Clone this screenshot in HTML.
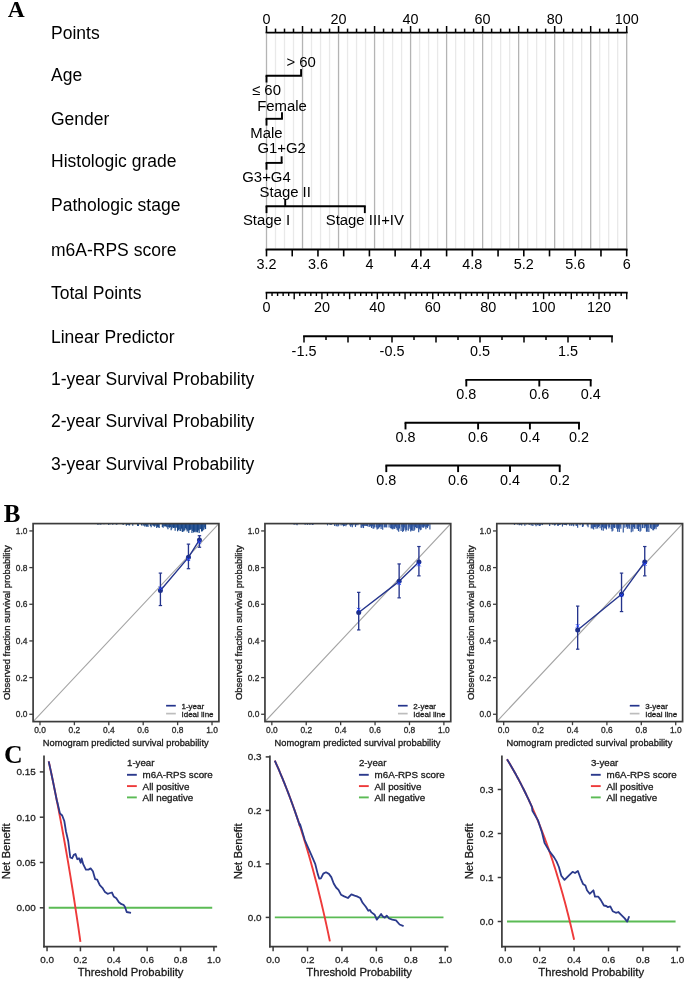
<!DOCTYPE html>
<html><head><meta charset="utf-8"><style>
html,body{margin:0;padding:0;background:#fff;}
svg{display:block;font-family:"Liberation Sans", sans-serif;will-change:transform;filter:blur(0.3px);}
</style></head><body>
<svg width="685" height="981" viewBox="0 0 685 981">
<rect width="685" height="981" fill="#fff"/>
<text x="7.7" y="17.1" font-family="'Liberation Serif', serif" font-weight="bold" font-size="23.5" fill="#000">A</text>
<line x1="266.50" y1="34.00" x2="266.50" y2="248.50" stroke="#b4b4b4" stroke-width="1.3"/>
<line x1="275.50" y1="34.00" x2="275.50" y2="248.50" stroke="#e9e9e9" stroke-width="1.3"/>
<line x1="284.51" y1="34.00" x2="284.51" y2="248.50" stroke="#e9e9e9" stroke-width="1.3"/>
<line x1="293.51" y1="34.00" x2="293.51" y2="248.50" stroke="#e9e9e9" stroke-width="1.3"/>
<line x1="302.52" y1="34.00" x2="302.52" y2="248.50" stroke="#b4b4b4" stroke-width="1.3"/>
<line x1="311.52" y1="34.00" x2="311.52" y2="248.50" stroke="#e9e9e9" stroke-width="1.3"/>
<line x1="320.53" y1="34.00" x2="320.53" y2="248.50" stroke="#e9e9e9" stroke-width="1.3"/>
<line x1="329.53" y1="34.00" x2="329.53" y2="248.50" stroke="#e9e9e9" stroke-width="1.3"/>
<line x1="338.54" y1="34.00" x2="338.54" y2="248.50" stroke="#b4b4b4" stroke-width="1.3"/>
<line x1="347.55" y1="34.00" x2="347.55" y2="248.50" stroke="#e9e9e9" stroke-width="1.3"/>
<line x1="356.55" y1="34.00" x2="356.55" y2="248.50" stroke="#e9e9e9" stroke-width="1.3"/>
<line x1="365.56" y1="34.00" x2="365.56" y2="248.50" stroke="#e9e9e9" stroke-width="1.3"/>
<line x1="374.56" y1="34.00" x2="374.56" y2="248.50" stroke="#b4b4b4" stroke-width="1.3"/>
<line x1="383.56" y1="34.00" x2="383.56" y2="248.50" stroke="#e9e9e9" stroke-width="1.3"/>
<line x1="392.57" y1="34.00" x2="392.57" y2="248.50" stroke="#e9e9e9" stroke-width="1.3"/>
<line x1="401.57" y1="34.00" x2="401.57" y2="248.50" stroke="#e9e9e9" stroke-width="1.3"/>
<line x1="410.58" y1="34.00" x2="410.58" y2="248.50" stroke="#b4b4b4" stroke-width="1.3"/>
<line x1="419.59" y1="34.00" x2="419.59" y2="248.50" stroke="#e9e9e9" stroke-width="1.3"/>
<line x1="428.59" y1="34.00" x2="428.59" y2="248.50" stroke="#e9e9e9" stroke-width="1.3"/>
<line x1="437.60" y1="34.00" x2="437.60" y2="248.50" stroke="#e9e9e9" stroke-width="1.3"/>
<line x1="446.60" y1="34.00" x2="446.60" y2="248.50" stroke="#b4b4b4" stroke-width="1.3"/>
<line x1="455.61" y1="34.00" x2="455.61" y2="248.50" stroke="#e9e9e9" stroke-width="1.3"/>
<line x1="464.61" y1="34.00" x2="464.61" y2="248.50" stroke="#e9e9e9" stroke-width="1.3"/>
<line x1="473.62" y1="34.00" x2="473.62" y2="248.50" stroke="#e9e9e9" stroke-width="1.3"/>
<line x1="482.62" y1="34.00" x2="482.62" y2="248.50" stroke="#b4b4b4" stroke-width="1.3"/>
<line x1="491.62" y1="34.00" x2="491.62" y2="248.50" stroke="#e9e9e9" stroke-width="1.3"/>
<line x1="500.63" y1="34.00" x2="500.63" y2="248.50" stroke="#e9e9e9" stroke-width="1.3"/>
<line x1="509.63" y1="34.00" x2="509.63" y2="248.50" stroke="#e9e9e9" stroke-width="1.3"/>
<line x1="518.64" y1="34.00" x2="518.64" y2="248.50" stroke="#b4b4b4" stroke-width="1.3"/>
<line x1="527.64" y1="34.00" x2="527.64" y2="248.50" stroke="#e9e9e9" stroke-width="1.3"/>
<line x1="536.65" y1="34.00" x2="536.65" y2="248.50" stroke="#e9e9e9" stroke-width="1.3"/>
<line x1="545.65" y1="34.00" x2="545.65" y2="248.50" stroke="#e9e9e9" stroke-width="1.3"/>
<line x1="554.66" y1="34.00" x2="554.66" y2="248.50" stroke="#b4b4b4" stroke-width="1.3"/>
<line x1="563.66" y1="34.00" x2="563.66" y2="248.50" stroke="#e9e9e9" stroke-width="1.3"/>
<line x1="572.67" y1="34.00" x2="572.67" y2="248.50" stroke="#e9e9e9" stroke-width="1.3"/>
<line x1="581.67" y1="34.00" x2="581.67" y2="248.50" stroke="#e9e9e9" stroke-width="1.3"/>
<line x1="590.68" y1="34.00" x2="590.68" y2="248.50" stroke="#b4b4b4" stroke-width="1.3"/>
<line x1="599.68" y1="34.00" x2="599.68" y2="248.50" stroke="#e9e9e9" stroke-width="1.3"/>
<line x1="608.69" y1="34.00" x2="608.69" y2="248.50" stroke="#e9e9e9" stroke-width="1.3"/>
<line x1="617.69" y1="34.00" x2="617.69" y2="248.50" stroke="#e9e9e9" stroke-width="1.3"/>
<line x1="626.70" y1="34.00" x2="626.70" y2="248.50" stroke="#b4b4b4" stroke-width="1.3"/>
<line x1="265.60" y1="32.60" x2="627.60" y2="32.60" stroke="#000" stroke-width="1.9"/>
<line x1="266.50" y1="26.00" x2="266.50" y2="32.60" stroke="#000" stroke-width="1.5"/>
<line x1="275.50" y1="28.60" x2="275.50" y2="32.60" stroke="#000" stroke-width="1.5"/>
<line x1="284.51" y1="28.60" x2="284.51" y2="32.60" stroke="#000" stroke-width="1.5"/>
<line x1="293.51" y1="28.60" x2="293.51" y2="32.60" stroke="#000" stroke-width="1.5"/>
<line x1="302.52" y1="26.00" x2="302.52" y2="32.60" stroke="#000" stroke-width="1.5"/>
<line x1="311.52" y1="28.60" x2="311.52" y2="32.60" stroke="#000" stroke-width="1.5"/>
<line x1="320.53" y1="28.60" x2="320.53" y2="32.60" stroke="#000" stroke-width="1.5"/>
<line x1="329.53" y1="28.60" x2="329.53" y2="32.60" stroke="#000" stroke-width="1.5"/>
<line x1="338.54" y1="26.00" x2="338.54" y2="32.60" stroke="#000" stroke-width="1.5"/>
<line x1="347.55" y1="28.60" x2="347.55" y2="32.60" stroke="#000" stroke-width="1.5"/>
<line x1="356.55" y1="28.60" x2="356.55" y2="32.60" stroke="#000" stroke-width="1.5"/>
<line x1="365.56" y1="28.60" x2="365.56" y2="32.60" stroke="#000" stroke-width="1.5"/>
<line x1="374.56" y1="26.00" x2="374.56" y2="32.60" stroke="#000" stroke-width="1.5"/>
<line x1="383.56" y1="28.60" x2="383.56" y2="32.60" stroke="#000" stroke-width="1.5"/>
<line x1="392.57" y1="28.60" x2="392.57" y2="32.60" stroke="#000" stroke-width="1.5"/>
<line x1="401.57" y1="28.60" x2="401.57" y2="32.60" stroke="#000" stroke-width="1.5"/>
<line x1="410.58" y1="26.00" x2="410.58" y2="32.60" stroke="#000" stroke-width="1.5"/>
<line x1="419.59" y1="28.60" x2="419.59" y2="32.60" stroke="#000" stroke-width="1.5"/>
<line x1="428.59" y1="28.60" x2="428.59" y2="32.60" stroke="#000" stroke-width="1.5"/>
<line x1="437.60" y1="28.60" x2="437.60" y2="32.60" stroke="#000" stroke-width="1.5"/>
<line x1="446.60" y1="26.00" x2="446.60" y2="32.60" stroke="#000" stroke-width="1.5"/>
<line x1="455.61" y1="28.60" x2="455.61" y2="32.60" stroke="#000" stroke-width="1.5"/>
<line x1="464.61" y1="28.60" x2="464.61" y2="32.60" stroke="#000" stroke-width="1.5"/>
<line x1="473.62" y1="28.60" x2="473.62" y2="32.60" stroke="#000" stroke-width="1.5"/>
<line x1="482.62" y1="26.00" x2="482.62" y2="32.60" stroke="#000" stroke-width="1.5"/>
<line x1="491.62" y1="28.60" x2="491.62" y2="32.60" stroke="#000" stroke-width="1.5"/>
<line x1="500.63" y1="28.60" x2="500.63" y2="32.60" stroke="#000" stroke-width="1.5"/>
<line x1="509.63" y1="28.60" x2="509.63" y2="32.60" stroke="#000" stroke-width="1.5"/>
<line x1="518.64" y1="26.00" x2="518.64" y2="32.60" stroke="#000" stroke-width="1.5"/>
<line x1="527.64" y1="28.60" x2="527.64" y2="32.60" stroke="#000" stroke-width="1.5"/>
<line x1="536.65" y1="28.60" x2="536.65" y2="32.60" stroke="#000" stroke-width="1.5"/>
<line x1="545.65" y1="28.60" x2="545.65" y2="32.60" stroke="#000" stroke-width="1.5"/>
<line x1="554.66" y1="26.00" x2="554.66" y2="32.60" stroke="#000" stroke-width="1.5"/>
<line x1="563.66" y1="28.60" x2="563.66" y2="32.60" stroke="#000" stroke-width="1.5"/>
<line x1="572.67" y1="28.60" x2="572.67" y2="32.60" stroke="#000" stroke-width="1.5"/>
<line x1="581.67" y1="28.60" x2="581.67" y2="32.60" stroke="#000" stroke-width="1.5"/>
<line x1="590.68" y1="26.00" x2="590.68" y2="32.60" stroke="#000" stroke-width="1.5"/>
<line x1="599.68" y1="28.60" x2="599.68" y2="32.60" stroke="#000" stroke-width="1.5"/>
<line x1="608.69" y1="28.60" x2="608.69" y2="32.60" stroke="#000" stroke-width="1.5"/>
<line x1="617.69" y1="28.60" x2="617.69" y2="32.60" stroke="#000" stroke-width="1.5"/>
<line x1="626.70" y1="26.00" x2="626.70" y2="32.60" stroke="#000" stroke-width="1.5"/>
<text x="266.50" y="23.80" font-size="14.4" text-anchor="middle" fill="#000">0</text>
<text x="338.54" y="23.80" font-size="14.4" text-anchor="middle" fill="#000">20</text>
<text x="410.58" y="23.80" font-size="14.4" text-anchor="middle" fill="#000">40</text>
<text x="482.62" y="23.80" font-size="14.4" text-anchor="middle" fill="#000">60</text>
<text x="554.66" y="23.80" font-size="14.4" text-anchor="middle" fill="#000">80</text>
<text x="626.70" y="23.80" font-size="14.4" text-anchor="middle" fill="#000">100</text>
<text x="51.00" y="38.80" font-size="17.5" text-anchor="start" fill="#000">Points</text>
<text x="51.00" y="80.70" font-size="17.5" text-anchor="start" fill="#000">Age</text>
<text x="51.00" y="125.40" font-size="17.5" text-anchor="start" fill="#000">Gender</text>
<text x="51.00" y="167.20" font-size="17.5" text-anchor="start" fill="#000">Histologic grade</text>
<text x="51.00" y="211.40" font-size="17.5" text-anchor="start" fill="#000">Pathologic stage</text>
<text x="51.00" y="256.00" font-size="17.5" text-anchor="start" fill="#000">m6A-RPS score</text>
<text x="51.00" y="299.00" font-size="17.5" text-anchor="start" fill="#000">Total Points</text>
<text x="51.00" y="342.70" font-size="17.5" text-anchor="start" fill="#000">Linear Predictor</text>
<text x="51.00" y="384.50" font-size="17.5" text-anchor="start" fill="#000">1-year Survival Probability</text>
<text x="51.00" y="427.30" font-size="17.5" text-anchor="start" fill="#000">2-year Survival Probability</text>
<text x="51.00" y="469.70" font-size="17.5" text-anchor="start" fill="#000">3-year Survival Probability</text>
<line x1="265.60" y1="75.70" x2="301.98" y2="75.70" stroke="#000" stroke-width="1.9"/>
<line x1="266.50" y1="75.70" x2="266.50" y2="82.50" stroke="#000" stroke-width="1.9"/>
<text x="266.50" y="95.00" font-size="14.9" text-anchor="middle" fill="#000">≤ 60</text>
<line x1="301.08" y1="69.10" x2="301.08" y2="75.70" stroke="#000" stroke-width="1.9"/>
<text x="301.08" y="66.90" font-size="14.9" text-anchor="middle" fill="#000">&gt; 60</text>
<line x1="265.60" y1="118.80" x2="282.89" y2="118.80" stroke="#000" stroke-width="1.9"/>
<line x1="266.50" y1="118.80" x2="266.50" y2="125.60" stroke="#000" stroke-width="1.9"/>
<text x="266.50" y="138.30" font-size="14.9" text-anchor="middle" fill="#000">Male</text>
<line x1="281.99" y1="112.20" x2="281.99" y2="118.80" stroke="#000" stroke-width="1.9"/>
<text x="281.99" y="110.50" font-size="14.9" text-anchor="middle" fill="#000">Female</text>
<line x1="265.60" y1="162.90" x2="282.53" y2="162.90" stroke="#000" stroke-width="1.9"/>
<line x1="266.50" y1="162.90" x2="266.50" y2="169.70" stroke="#000" stroke-width="1.9"/>
<text x="266.50" y="182.20" font-size="14.9" text-anchor="middle" fill="#000">G3+G4</text>
<line x1="281.63" y1="156.30" x2="281.63" y2="162.90" stroke="#000" stroke-width="1.9"/>
<text x="281.63" y="153.30" font-size="14.9" text-anchor="middle" fill="#000">G1+G2</text>
<line x1="265.60" y1="206.30" x2="365.73" y2="206.30" stroke="#000" stroke-width="1.9"/>
<line x1="266.50" y1="206.30" x2="266.50" y2="213.10" stroke="#000" stroke-width="1.9"/>
<text x="266.50" y="224.90" font-size="14.9" text-anchor="middle" fill="#000">Stage I</text>
<line x1="285.23" y1="199.70" x2="285.23" y2="206.30" stroke="#000" stroke-width="1.9"/>
<text x="285.23" y="196.60" font-size="14.9" text-anchor="middle" fill="#000">Stage II</text>
<line x1="364.83" y1="206.30" x2="364.83" y2="213.10" stroke="#000" stroke-width="1.9"/>
<text x="364.83" y="225.40" font-size="14.9" text-anchor="middle" fill="#000">Stage III+IV</text>
<line x1="265.60" y1="249.50" x2="627.60" y2="249.50" stroke="#000" stroke-width="1.9"/>
<line x1="266.50" y1="249.50" x2="266.50" y2="256.40" stroke="#000" stroke-width="1.6"/>
<line x1="292.23" y1="249.50" x2="292.23" y2="256.40" stroke="#000" stroke-width="1.6"/>
<line x1="317.96" y1="249.50" x2="317.96" y2="256.40" stroke="#000" stroke-width="1.6"/>
<line x1="343.69" y1="249.50" x2="343.69" y2="256.40" stroke="#000" stroke-width="1.6"/>
<line x1="369.41" y1="249.50" x2="369.41" y2="256.40" stroke="#000" stroke-width="1.6"/>
<line x1="395.14" y1="249.50" x2="395.14" y2="256.40" stroke="#000" stroke-width="1.6"/>
<line x1="420.87" y1="249.50" x2="420.87" y2="256.40" stroke="#000" stroke-width="1.6"/>
<line x1="446.60" y1="249.50" x2="446.60" y2="256.40" stroke="#000" stroke-width="1.6"/>
<line x1="472.33" y1="249.50" x2="472.33" y2="256.40" stroke="#000" stroke-width="1.6"/>
<line x1="498.06" y1="249.50" x2="498.06" y2="256.40" stroke="#000" stroke-width="1.6"/>
<line x1="523.79" y1="249.50" x2="523.79" y2="256.40" stroke="#000" stroke-width="1.6"/>
<line x1="549.51" y1="249.50" x2="549.51" y2="256.40" stroke="#000" stroke-width="1.6"/>
<line x1="575.24" y1="249.50" x2="575.24" y2="256.40" stroke="#000" stroke-width="1.6"/>
<line x1="600.97" y1="249.50" x2="600.97" y2="256.40" stroke="#000" stroke-width="1.6"/>
<line x1="626.70" y1="249.50" x2="626.70" y2="256.40" stroke="#000" stroke-width="1.6"/>
<text x="266.50" y="268.60" font-size="14.4" text-anchor="middle" fill="#000">3.2</text>
<text x="317.96" y="268.60" font-size="14.4" text-anchor="middle" fill="#000">3.6</text>
<text x="369.41" y="268.60" font-size="14.4" text-anchor="middle" fill="#000">4</text>
<text x="420.87" y="268.60" font-size="14.4" text-anchor="middle" fill="#000">4.4</text>
<text x="472.33" y="268.60" font-size="14.4" text-anchor="middle" fill="#000">4.8</text>
<text x="523.79" y="268.60" font-size="14.4" text-anchor="middle" fill="#000">5.2</text>
<text x="575.24" y="268.60" font-size="14.4" text-anchor="middle" fill="#000">5.6</text>
<text x="626.70" y="268.60" font-size="14.4" text-anchor="middle" fill="#000">6</text>
<line x1="265.60" y1="292.60" x2="627.63" y2="292.60" stroke="#000" stroke-width="1.9"/>
<line x1="266.50" y1="292.60" x2="266.50" y2="299.20" stroke="#000" stroke-width="1.4"/>
<line x1="272.04" y1="292.60" x2="272.04" y2="296.00" stroke="#000" stroke-width="1.4"/>
<line x1="277.58" y1="292.60" x2="277.58" y2="296.00" stroke="#000" stroke-width="1.4"/>
<line x1="283.13" y1="292.60" x2="283.13" y2="296.00" stroke="#000" stroke-width="1.4"/>
<line x1="288.67" y1="292.60" x2="288.67" y2="296.00" stroke="#000" stroke-width="1.4"/>
<line x1="294.21" y1="292.60" x2="294.21" y2="299.20" stroke="#000" stroke-width="1.4"/>
<line x1="299.75" y1="292.60" x2="299.75" y2="296.00" stroke="#000" stroke-width="1.4"/>
<line x1="305.29" y1="292.60" x2="305.29" y2="296.00" stroke="#000" stroke-width="1.4"/>
<line x1="310.84" y1="292.60" x2="310.84" y2="296.00" stroke="#000" stroke-width="1.4"/>
<line x1="316.38" y1="292.60" x2="316.38" y2="296.00" stroke="#000" stroke-width="1.4"/>
<line x1="321.92" y1="292.60" x2="321.92" y2="299.20" stroke="#000" stroke-width="1.4"/>
<line x1="327.46" y1="292.60" x2="327.46" y2="296.00" stroke="#000" stroke-width="1.4"/>
<line x1="333.00" y1="292.60" x2="333.00" y2="296.00" stroke="#000" stroke-width="1.4"/>
<line x1="338.55" y1="292.60" x2="338.55" y2="296.00" stroke="#000" stroke-width="1.4"/>
<line x1="344.09" y1="292.60" x2="344.09" y2="296.00" stroke="#000" stroke-width="1.4"/>
<line x1="349.63" y1="292.60" x2="349.63" y2="299.20" stroke="#000" stroke-width="1.4"/>
<line x1="355.17" y1="292.60" x2="355.17" y2="296.00" stroke="#000" stroke-width="1.4"/>
<line x1="360.71" y1="292.60" x2="360.71" y2="296.00" stroke="#000" stroke-width="1.4"/>
<line x1="366.26" y1="292.60" x2="366.26" y2="296.00" stroke="#000" stroke-width="1.4"/>
<line x1="371.80" y1="292.60" x2="371.80" y2="296.00" stroke="#000" stroke-width="1.4"/>
<line x1="377.34" y1="292.60" x2="377.34" y2="299.20" stroke="#000" stroke-width="1.4"/>
<line x1="382.88" y1="292.60" x2="382.88" y2="296.00" stroke="#000" stroke-width="1.4"/>
<line x1="388.42" y1="292.60" x2="388.42" y2="296.00" stroke="#000" stroke-width="1.4"/>
<line x1="393.97" y1="292.60" x2="393.97" y2="296.00" stroke="#000" stroke-width="1.4"/>
<line x1="399.51" y1="292.60" x2="399.51" y2="296.00" stroke="#000" stroke-width="1.4"/>
<line x1="405.05" y1="292.60" x2="405.05" y2="299.20" stroke="#000" stroke-width="1.4"/>
<line x1="410.59" y1="292.60" x2="410.59" y2="296.00" stroke="#000" stroke-width="1.4"/>
<line x1="416.13" y1="292.60" x2="416.13" y2="296.00" stroke="#000" stroke-width="1.4"/>
<line x1="421.68" y1="292.60" x2="421.68" y2="296.00" stroke="#000" stroke-width="1.4"/>
<line x1="427.22" y1="292.60" x2="427.22" y2="296.00" stroke="#000" stroke-width="1.4"/>
<line x1="432.76" y1="292.60" x2="432.76" y2="299.20" stroke="#000" stroke-width="1.4"/>
<line x1="438.30" y1="292.60" x2="438.30" y2="296.00" stroke="#000" stroke-width="1.4"/>
<line x1="443.84" y1="292.60" x2="443.84" y2="296.00" stroke="#000" stroke-width="1.4"/>
<line x1="449.39" y1="292.60" x2="449.39" y2="296.00" stroke="#000" stroke-width="1.4"/>
<line x1="454.93" y1="292.60" x2="454.93" y2="296.00" stroke="#000" stroke-width="1.4"/>
<line x1="460.47" y1="292.60" x2="460.47" y2="299.20" stroke="#000" stroke-width="1.4"/>
<line x1="466.01" y1="292.60" x2="466.01" y2="296.00" stroke="#000" stroke-width="1.4"/>
<line x1="471.55" y1="292.60" x2="471.55" y2="296.00" stroke="#000" stroke-width="1.4"/>
<line x1="477.10" y1="292.60" x2="477.10" y2="296.00" stroke="#000" stroke-width="1.4"/>
<line x1="482.64" y1="292.60" x2="482.64" y2="296.00" stroke="#000" stroke-width="1.4"/>
<line x1="488.18" y1="292.60" x2="488.18" y2="299.20" stroke="#000" stroke-width="1.4"/>
<line x1="493.72" y1="292.60" x2="493.72" y2="296.00" stroke="#000" stroke-width="1.4"/>
<line x1="499.26" y1="292.60" x2="499.26" y2="296.00" stroke="#000" stroke-width="1.4"/>
<line x1="504.81" y1="292.60" x2="504.81" y2="296.00" stroke="#000" stroke-width="1.4"/>
<line x1="510.35" y1="292.60" x2="510.35" y2="296.00" stroke="#000" stroke-width="1.4"/>
<line x1="515.89" y1="292.60" x2="515.89" y2="299.20" stroke="#000" stroke-width="1.4"/>
<line x1="521.43" y1="292.60" x2="521.43" y2="296.00" stroke="#000" stroke-width="1.4"/>
<line x1="526.97" y1="292.60" x2="526.97" y2="296.00" stroke="#000" stroke-width="1.4"/>
<line x1="532.52" y1="292.60" x2="532.52" y2="296.00" stroke="#000" stroke-width="1.4"/>
<line x1="538.06" y1="292.60" x2="538.06" y2="296.00" stroke="#000" stroke-width="1.4"/>
<line x1="543.60" y1="292.60" x2="543.60" y2="299.20" stroke="#000" stroke-width="1.4"/>
<line x1="549.14" y1="292.60" x2="549.14" y2="296.00" stroke="#000" stroke-width="1.4"/>
<line x1="554.68" y1="292.60" x2="554.68" y2="296.00" stroke="#000" stroke-width="1.4"/>
<line x1="560.23" y1="292.60" x2="560.23" y2="296.00" stroke="#000" stroke-width="1.4"/>
<line x1="565.77" y1="292.60" x2="565.77" y2="296.00" stroke="#000" stroke-width="1.4"/>
<line x1="571.31" y1="292.60" x2="571.31" y2="299.20" stroke="#000" stroke-width="1.4"/>
<line x1="576.85" y1="292.60" x2="576.85" y2="296.00" stroke="#000" stroke-width="1.4"/>
<line x1="582.39" y1="292.60" x2="582.39" y2="296.00" stroke="#000" stroke-width="1.4"/>
<line x1="587.94" y1="292.60" x2="587.94" y2="296.00" stroke="#000" stroke-width="1.4"/>
<line x1="593.48" y1="292.60" x2="593.48" y2="296.00" stroke="#000" stroke-width="1.4"/>
<line x1="599.02" y1="292.60" x2="599.02" y2="299.20" stroke="#000" stroke-width="1.4"/>
<line x1="604.56" y1="292.60" x2="604.56" y2="296.00" stroke="#000" stroke-width="1.4"/>
<line x1="610.10" y1="292.60" x2="610.10" y2="296.00" stroke="#000" stroke-width="1.4"/>
<line x1="615.65" y1="292.60" x2="615.65" y2="296.00" stroke="#000" stroke-width="1.4"/>
<line x1="621.19" y1="292.60" x2="621.19" y2="296.00" stroke="#000" stroke-width="1.4"/>
<line x1="626.73" y1="292.60" x2="626.73" y2="299.20" stroke="#000" stroke-width="1.4"/>
<text x="266.50" y="312.10" font-size="14.4" text-anchor="middle" fill="#000">0</text>
<text x="321.92" y="312.10" font-size="14.4" text-anchor="middle" fill="#000">20</text>
<text x="377.34" y="312.10" font-size="14.4" text-anchor="middle" fill="#000">40</text>
<text x="432.76" y="312.10" font-size="14.4" text-anchor="middle" fill="#000">60</text>
<text x="488.18" y="312.10" font-size="14.4" text-anchor="middle" fill="#000">80</text>
<text x="543.60" y="312.10" font-size="14.4" text-anchor="middle" fill="#000">100</text>
<text x="599.02" y="312.10" font-size="14.4" text-anchor="middle" fill="#000">120</text>
<line x1="303.10" y1="336.30" x2="612.90" y2="336.30" stroke="#000" stroke-width="1.9"/>
<line x1="304.00" y1="336.30" x2="304.00" y2="342.60" stroke="#000" stroke-width="1.5"/>
<line x1="326.00" y1="336.30" x2="326.00" y2="340.00" stroke="#000" stroke-width="1.5"/>
<line x1="348.00" y1="336.30" x2="348.00" y2="342.60" stroke="#000" stroke-width="1.5"/>
<line x1="370.00" y1="336.30" x2="370.00" y2="340.00" stroke="#000" stroke-width="1.5"/>
<line x1="392.00" y1="336.30" x2="392.00" y2="342.60" stroke="#000" stroke-width="1.5"/>
<line x1="414.00" y1="336.30" x2="414.00" y2="340.00" stroke="#000" stroke-width="1.5"/>
<line x1="436.00" y1="336.30" x2="436.00" y2="342.60" stroke="#000" stroke-width="1.5"/>
<line x1="458.00" y1="336.30" x2="458.00" y2="340.00" stroke="#000" stroke-width="1.5"/>
<line x1="480.00" y1="336.30" x2="480.00" y2="342.60" stroke="#000" stroke-width="1.5"/>
<line x1="502.00" y1="336.30" x2="502.00" y2="340.00" stroke="#000" stroke-width="1.5"/>
<line x1="524.00" y1="336.30" x2="524.00" y2="342.60" stroke="#000" stroke-width="1.5"/>
<line x1="546.00" y1="336.30" x2="546.00" y2="340.00" stroke="#000" stroke-width="1.5"/>
<line x1="568.00" y1="336.30" x2="568.00" y2="342.60" stroke="#000" stroke-width="1.5"/>
<line x1="590.00" y1="336.30" x2="590.00" y2="340.00" stroke="#000" stroke-width="1.5"/>
<line x1="612.00" y1="336.30" x2="612.00" y2="342.60" stroke="#000" stroke-width="1.5"/>
<text x="304.00" y="356.00" font-size="14.4" text-anchor="middle" fill="#000">-1.5</text>
<text x="392.00" y="356.00" font-size="14.4" text-anchor="middle" fill="#000">-0.5</text>
<text x="480.00" y="356.00" font-size="14.4" text-anchor="middle" fill="#000">0.5</text>
<text x="568.00" y="356.00" font-size="14.4" text-anchor="middle" fill="#000">1.5</text>
<line x1="465.40" y1="379.90" x2="591.60" y2="379.90" stroke="#000" stroke-width="1.9"/>
<line x1="466.30" y1="379.90" x2="466.30" y2="386.50" stroke="#000" stroke-width="1.9"/>
<text x="466.30" y="398.90" font-size="14.4" text-anchor="middle" fill="#000">0.8</text>
<line x1="539.30" y1="379.90" x2="539.30" y2="386.50" stroke="#000" stroke-width="1.9"/>
<text x="539.30" y="398.90" font-size="14.4" text-anchor="middle" fill="#000">0.6</text>
<line x1="590.70" y1="379.90" x2="590.70" y2="386.50" stroke="#000" stroke-width="1.9"/>
<text x="590.70" y="398.90" font-size="14.4" text-anchor="middle" fill="#000">0.4</text>
<line x1="404.60" y1="422.80" x2="579.90" y2="422.80" stroke="#000" stroke-width="1.9"/>
<line x1="405.50" y1="422.80" x2="405.50" y2="429.40" stroke="#000" stroke-width="1.9"/>
<text x="405.50" y="441.90" font-size="14.4" text-anchor="middle" fill="#000">0.8</text>
<line x1="478.10" y1="422.80" x2="478.10" y2="429.40" stroke="#000" stroke-width="1.9"/>
<text x="478.10" y="441.90" font-size="14.4" text-anchor="middle" fill="#000">0.6</text>
<line x1="529.90" y1="422.80" x2="529.90" y2="429.40" stroke="#000" stroke-width="1.9"/>
<text x="529.90" y="441.90" font-size="14.4" text-anchor="middle" fill="#000">0.4</text>
<line x1="579.00" y1="422.80" x2="579.00" y2="429.40" stroke="#000" stroke-width="1.9"/>
<text x="579.00" y="441.90" font-size="14.4" text-anchor="middle" fill="#000">0.2</text>
<line x1="385.40" y1="465.50" x2="560.60" y2="465.50" stroke="#000" stroke-width="1.9"/>
<line x1="386.30" y1="465.50" x2="386.30" y2="472.10" stroke="#000" stroke-width="1.9"/>
<text x="386.30" y="484.80" font-size="14.4" text-anchor="middle" fill="#000">0.8</text>
<line x1="458.10" y1="465.50" x2="458.10" y2="472.10" stroke="#000" stroke-width="1.9"/>
<text x="458.10" y="484.80" font-size="14.4" text-anchor="middle" fill="#000">0.6</text>
<line x1="510.00" y1="465.50" x2="510.00" y2="472.10" stroke="#000" stroke-width="1.9"/>
<text x="510.00" y="484.80" font-size="14.4" text-anchor="middle" fill="#000">0.4</text>
<line x1="559.70" y1="465.50" x2="559.70" y2="472.10" stroke="#000" stroke-width="1.9"/>
<text x="559.70" y="484.80" font-size="14.4" text-anchor="middle" fill="#000">0.2</text>
<text x="3.7" y="522.1" font-family="'Liberation Serif', serif" font-weight="bold" font-size="25" fill="#000">B</text>
<clipPath id="cb0"><rect x="33.1" y="523.6" width="185.8" height="198.0"/></clipPath>
<line x1="33.10" y1="721.60" x2="218.90" y2="523.60" stroke="#a3a3a3" stroke-width="1.1" clip-path="url(#cb0)"/>
<line x1="97.55" y1="523.60" x2="97.55" y2="524.53" stroke="#184689" stroke-width="1.15"/>
<line x1="98.35" y1="523.60" x2="98.35" y2="524.45" stroke="#184689" stroke-width="1.15"/>
<line x1="99.95" y1="523.60" x2="99.95" y2="524.45" stroke="#184689" stroke-width="1.15"/>
<line x1="100.75" y1="523.60" x2="100.75" y2="524.40" stroke="#184689" stroke-width="1.15"/>
<line x1="101.55" y1="523.60" x2="101.55" y2="524.12" stroke="#184689" stroke-width="1.15"/>
<line x1="103.95" y1="523.60" x2="103.95" y2="524.26" stroke="#184689" stroke-width="1.15"/>
<line x1="108.75" y1="523.60" x2="108.75" y2="524.90" stroke="#184689" stroke-width="1.15"/>
<line x1="110.35" y1="523.60" x2="110.35" y2="524.24" stroke="#184689" stroke-width="1.15"/>
<line x1="112.75" y1="523.60" x2="112.75" y2="524.71" stroke="#184689" stroke-width="1.15"/>
<line x1="115.95" y1="523.60" x2="115.95" y2="524.24" stroke="#184689" stroke-width="1.15"/>
<line x1="116.75" y1="523.60" x2="116.75" y2="524.87" stroke="#184689" stroke-width="1.15"/>
<line x1="123.15" y1="523.60" x2="123.15" y2="525.03" stroke="#184689" stroke-width="1.15"/>
<line x1="126.35" y1="523.60" x2="126.35" y2="525.74" stroke="#184689" stroke-width="1.15"/>
<line x1="127.15" y1="523.60" x2="127.15" y2="524.98" stroke="#184689" stroke-width="1.15"/>
<line x1="128.75" y1="523.60" x2="128.75" y2="525.15" stroke="#184689" stroke-width="1.15"/>
<line x1="129.55" y1="523.60" x2="129.55" y2="525.46" stroke="#184689" stroke-width="1.15"/>
<line x1="132.75" y1="523.60" x2="132.75" y2="525.66" stroke="#184689" stroke-width="1.15"/>
<line x1="137.55" y1="523.60" x2="137.55" y2="525.86" stroke="#184689" stroke-width="1.15"/>
<line x1="138.35" y1="523.60" x2="138.35" y2="525.98" stroke="#184689" stroke-width="1.15"/>
<line x1="141.55" y1="523.60" x2="141.55" y2="525.51" stroke="#184689" stroke-width="1.15"/>
<line x1="143.15" y1="523.60" x2="143.15" y2="525.74" stroke="#184689" stroke-width="1.15"/>
<line x1="143.95" y1="523.60" x2="143.95" y2="525.03" stroke="#184689" stroke-width="1.15"/>
<line x1="144.75" y1="523.60" x2="144.75" y2="526.50" stroke="#184689" stroke-width="1.15"/>
<line x1="145.55" y1="523.60" x2="145.55" y2="525.37" stroke="#184689" stroke-width="1.15"/>
<line x1="146.35" y1="523.60" x2="146.35" y2="526.83" stroke="#184689" stroke-width="1.15"/>
<line x1="147.15" y1="523.60" x2="147.15" y2="525.90" stroke="#184689" stroke-width="1.15"/>
<line x1="147.95" y1="523.60" x2="147.95" y2="526.96" stroke="#184689" stroke-width="1.15"/>
<line x1="150.35" y1="523.60" x2="150.35" y2="525.97" stroke="#184689" stroke-width="1.15"/>
<line x1="151.15" y1="523.60" x2="151.15" y2="527.17" stroke="#184689" stroke-width="1.15"/>
<line x1="152.75" y1="523.60" x2="152.75" y2="525.52" stroke="#184689" stroke-width="1.15"/>
<line x1="153.55" y1="523.60" x2="153.55" y2="525.73" stroke="#184689" stroke-width="1.15"/>
<line x1="154.35" y1="523.60" x2="154.35" y2="526.73" stroke="#184689" stroke-width="1.15"/>
<line x1="155.15" y1="523.60" x2="155.15" y2="525.26" stroke="#184689" stroke-width="1.15"/>
<line x1="155.95" y1="523.60" x2="155.95" y2="526.30" stroke="#184689" stroke-width="1.15"/>
<line x1="156.75" y1="523.60" x2="156.75" y2="527.95" stroke="#184689" stroke-width="1.15"/>
<line x1="157.55" y1="523.60" x2="157.55" y2="526.84" stroke="#184689" stroke-width="1.15"/>
<line x1="158.35" y1="523.60" x2="158.35" y2="527.36" stroke="#184689" stroke-width="1.15"/>
<line x1="159.15" y1="523.60" x2="159.15" y2="528.07" stroke="#184689" stroke-width="1.15"/>
<line x1="162.35" y1="523.60" x2="162.35" y2="526.96" stroke="#184689" stroke-width="1.15"/>
<line x1="163.15" y1="523.60" x2="163.15" y2="527.73" stroke="#184689" stroke-width="1.15"/>
<line x1="163.95" y1="523.60" x2="163.95" y2="526.11" stroke="#184689" stroke-width="1.15"/>
<line x1="164.75" y1="523.60" x2="164.75" y2="526.50" stroke="#184689" stroke-width="1.15"/>
<line x1="165.55" y1="523.60" x2="165.55" y2="526.25" stroke="#184689" stroke-width="1.15"/>
<line x1="166.35" y1="523.60" x2="166.35" y2="526.65" stroke="#184689" stroke-width="1.15"/>
<line x1="167.15" y1="523.60" x2="167.15" y2="527.44" stroke="#184689" stroke-width="1.15"/>
<line x1="167.95" y1="523.60" x2="167.95" y2="529.23" stroke="#184689" stroke-width="1.15"/>
<line x1="168.75" y1="523.60" x2="168.75" y2="526.93" stroke="#184689" stroke-width="1.15"/>
<line x1="169.55" y1="523.60" x2="169.55" y2="527.71" stroke="#184689" stroke-width="1.15"/>
<line x1="170.35" y1="523.60" x2="170.35" y2="527.04" stroke="#184689" stroke-width="1.15"/>
<line x1="171.15" y1="523.60" x2="171.15" y2="530.20" stroke="#184689" stroke-width="1.15"/>
<line x1="171.95" y1="523.60" x2="171.95" y2="528.52" stroke="#184689" stroke-width="1.15"/>
<line x1="172.75" y1="523.60" x2="172.75" y2="527.24" stroke="#184689" stroke-width="1.15"/>
<line x1="173.55" y1="523.60" x2="173.55" y2="527.94" stroke="#184689" stroke-width="1.15"/>
<line x1="174.35" y1="523.60" x2="174.35" y2="527.65" stroke="#184689" stroke-width="1.15"/>
<line x1="175.15" y1="523.60" x2="175.15" y2="530.77" stroke="#184689" stroke-width="1.15"/>
<line x1="175.95" y1="523.60" x2="175.95" y2="527.79" stroke="#184689" stroke-width="1.15"/>
<line x1="176.75" y1="523.60" x2="176.75" y2="527.41" stroke="#184689" stroke-width="1.15"/>
<line x1="177.55" y1="523.60" x2="177.55" y2="531.30" stroke="#184689" stroke-width="1.15"/>
<line x1="178.35" y1="523.60" x2="178.35" y2="530.29" stroke="#184689" stroke-width="1.15"/>
<line x1="179.15" y1="523.60" x2="179.15" y2="529.04" stroke="#184689" stroke-width="1.15"/>
<line x1="179.95" y1="523.60" x2="179.95" y2="530.82" stroke="#184689" stroke-width="1.15"/>
<line x1="180.75" y1="523.60" x2="180.75" y2="530.97" stroke="#184689" stroke-width="1.15"/>
<line x1="181.55" y1="523.60" x2="181.55" y2="528.70" stroke="#184689" stroke-width="1.15"/>
<line x1="182.35" y1="523.60" x2="182.35" y2="532.09" stroke="#184689" stroke-width="1.15"/>
<line x1="183.15" y1="523.60" x2="183.15" y2="531.43" stroke="#184689" stroke-width="1.15"/>
<line x1="183.95" y1="523.60" x2="183.95" y2="531.25" stroke="#184689" stroke-width="1.15"/>
<line x1="184.75" y1="523.60" x2="184.75" y2="530.36" stroke="#184689" stroke-width="1.15"/>
<line x1="185.55" y1="523.60" x2="185.55" y2="528.23" stroke="#184689" stroke-width="1.15"/>
<line x1="186.35" y1="523.60" x2="186.35" y2="529.46" stroke="#184689" stroke-width="1.15"/>
<line x1="187.15" y1="523.60" x2="187.15" y2="531.48" stroke="#184689" stroke-width="1.15"/>
<line x1="187.95" y1="523.60" x2="187.95" y2="530.43" stroke="#184689" stroke-width="1.15"/>
<line x1="188.75" y1="523.60" x2="188.75" y2="533.12" stroke="#184689" stroke-width="1.15"/>
<line x1="189.55" y1="523.60" x2="189.55" y2="530.22" stroke="#184689" stroke-width="1.15"/>
<line x1="190.35" y1="523.60" x2="190.35" y2="529.63" stroke="#184689" stroke-width="1.15"/>
<line x1="191.15" y1="523.60" x2="191.15" y2="529.60" stroke="#184689" stroke-width="1.15"/>
<line x1="191.95" y1="523.60" x2="191.95" y2="533.07" stroke="#184689" stroke-width="1.15"/>
<line x1="192.75" y1="523.60" x2="192.75" y2="530.96" stroke="#184689" stroke-width="1.15"/>
<line x1="193.55" y1="523.60" x2="193.55" y2="532.50" stroke="#184689" stroke-width="1.15"/>
<line x1="194.35" y1="523.60" x2="194.35" y2="531.79" stroke="#184689" stroke-width="1.15"/>
<line x1="195.15" y1="523.60" x2="195.15" y2="532.34" stroke="#184689" stroke-width="1.15"/>
<line x1="195.95" y1="523.60" x2="195.95" y2="530.86" stroke="#184689" stroke-width="1.15"/>
<line x1="196.75" y1="523.60" x2="196.75" y2="532.30" stroke="#184689" stroke-width="1.15"/>
<line x1="197.55" y1="523.60" x2="197.55" y2="532.32" stroke="#184689" stroke-width="1.15"/>
<line x1="198.35" y1="523.60" x2="198.35" y2="530.42" stroke="#184689" stroke-width="1.15"/>
<line x1="199.15" y1="523.60" x2="199.15" y2="532.91" stroke="#184689" stroke-width="1.15"/>
<line x1="199.95" y1="523.60" x2="199.95" y2="529.37" stroke="#184689" stroke-width="1.15"/>
<line x1="200.75" y1="523.60" x2="200.75" y2="529.04" stroke="#184689" stroke-width="1.15"/>
<line x1="201.55" y1="523.60" x2="201.55" y2="531.48" stroke="#184689" stroke-width="1.15"/>
<line x1="202.35" y1="523.60" x2="202.35" y2="531.17" stroke="#184689" stroke-width="1.15"/>
<line x1="203.15" y1="523.60" x2="203.15" y2="530.17" stroke="#184689" stroke-width="1.15"/>
<line x1="203.95" y1="523.60" x2="203.95" y2="529.44" stroke="#184689" stroke-width="1.15"/>
<line x1="204.75" y1="523.60" x2="204.75" y2="527.38" stroke="#184689" stroke-width="1.15"/>
<line x1="205.55" y1="523.60" x2="205.55" y2="529.09" stroke="#184689" stroke-width="1.15"/>
<polyline points="160.41,590.52 188.45,557.33 199.46,539.92" fill="none" stroke="#24348c" stroke-width="1.4" stroke-linejoin="round" stroke-linecap="butt"/>
<line x1="160.41" y1="573.10" x2="160.41" y2="605.55" stroke="#24348c" stroke-width="1.35"/>
<line x1="158.71" y1="573.10" x2="162.11" y2="573.10" stroke="#24348c" stroke-width="1.2"/>
<line x1="158.71" y1="605.55" x2="162.11" y2="605.55" stroke="#24348c" stroke-width="1.2"/>
<circle cx="160.41" cy="590.52" r="2.5" fill="#1c2f8a"/>
<line x1="158.71" y1="586.62" x2="162.11" y2="590.02" stroke="#2040ff" stroke-width="1.0"/>
<line x1="158.71" y1="590.02" x2="162.11" y2="586.62" stroke="#2040ff" stroke-width="1.0"/>
<line x1="188.45" y1="544.13" x2="188.45" y2="568.70" stroke="#24348c" stroke-width="1.35"/>
<line x1="186.75" y1="544.13" x2="190.15" y2="544.13" stroke="#24348c" stroke-width="1.2"/>
<line x1="186.75" y1="568.70" x2="190.15" y2="568.70" stroke="#24348c" stroke-width="1.2"/>
<circle cx="188.45" cy="557.33" r="2.5" fill="#1c2f8a"/>
<line x1="186.75" y1="557.63" x2="190.15" y2="561.03" stroke="#2040ff" stroke-width="1.0"/>
<line x1="186.75" y1="561.03" x2="190.15" y2="557.63" stroke="#2040ff" stroke-width="1.0"/>
<line x1="199.46" y1="535.70" x2="199.46" y2="547.25" stroke="#24348c" stroke-width="1.35"/>
<line x1="197.76" y1="535.70" x2="201.16" y2="535.70" stroke="#24348c" stroke-width="1.2"/>
<line x1="197.76" y1="547.25" x2="201.16" y2="547.25" stroke="#24348c" stroke-width="1.2"/>
<circle cx="199.46" cy="539.92" r="2.5" fill="#1c2f8a"/>
<line x1="197.76" y1="540.22" x2="201.16" y2="543.62" stroke="#2040ff" stroke-width="1.0"/>
<line x1="197.76" y1="543.62" x2="201.16" y2="540.22" stroke="#2040ff" stroke-width="1.0"/>
<rect x="33.10" y="523.60" width="185.80" height="198.00" fill="none" stroke="#3c3c3c" stroke-width="1.7"/>
<line x1="39.98" y1="721.60" x2="39.98" y2="725.20" stroke="#3c3c3c" stroke-width="1.3"/>
<text x="39.98" y="733.40" font-size="8.4" text-anchor="middle" fill="#2a2a2a" stroke="#2a2a2a" stroke-width="0.3">0.0</text>
<line x1="29.30" y1="714.27" x2="33.10" y2="714.27" stroke="#3c3c3c" stroke-width="1.3"/>
<text x="27.50" y="717.27" font-size="8.4" text-anchor="end" fill="#2a2a2a" stroke="#2a2a2a" stroke-width="0.3">0.0</text>
<line x1="74.39" y1="721.60" x2="74.39" y2="725.20" stroke="#3c3c3c" stroke-width="1.3"/>
<text x="74.39" y="733.40" font-size="8.4" text-anchor="middle" fill="#2a2a2a" stroke="#2a2a2a" stroke-width="0.3">0.2</text>
<line x1="29.30" y1="677.60" x2="33.10" y2="677.60" stroke="#3c3c3c" stroke-width="1.3"/>
<text x="27.50" y="680.60" font-size="8.4" text-anchor="end" fill="#2a2a2a" stroke="#2a2a2a" stroke-width="0.3">0.2</text>
<line x1="108.80" y1="721.60" x2="108.80" y2="725.20" stroke="#3c3c3c" stroke-width="1.3"/>
<text x="108.80" y="733.40" font-size="8.4" text-anchor="middle" fill="#2a2a2a" stroke="#2a2a2a" stroke-width="0.3">0.4</text>
<line x1="29.30" y1="640.93" x2="33.10" y2="640.93" stroke="#3c3c3c" stroke-width="1.3"/>
<text x="27.50" y="643.93" font-size="8.4" text-anchor="end" fill="#2a2a2a" stroke="#2a2a2a" stroke-width="0.3">0.4</text>
<line x1="143.20" y1="721.60" x2="143.20" y2="725.20" stroke="#3c3c3c" stroke-width="1.3"/>
<text x="143.20" y="733.40" font-size="8.4" text-anchor="middle" fill="#2a2a2a" stroke="#2a2a2a" stroke-width="0.3">0.6</text>
<line x1="29.30" y1="604.27" x2="33.10" y2="604.27" stroke="#3c3c3c" stroke-width="1.3"/>
<text x="27.50" y="607.27" font-size="8.4" text-anchor="end" fill="#2a2a2a" stroke="#2a2a2a" stroke-width="0.3">0.6</text>
<line x1="177.61" y1="721.60" x2="177.61" y2="725.20" stroke="#3c3c3c" stroke-width="1.3"/>
<text x="177.61" y="733.40" font-size="8.4" text-anchor="middle" fill="#2a2a2a" stroke="#2a2a2a" stroke-width="0.3">0.8</text>
<line x1="29.30" y1="567.60" x2="33.10" y2="567.60" stroke="#3c3c3c" stroke-width="1.3"/>
<text x="27.50" y="570.60" font-size="8.4" text-anchor="end" fill="#2a2a2a" stroke="#2a2a2a" stroke-width="0.3">0.8</text>
<line x1="212.02" y1="721.60" x2="212.02" y2="725.20" stroke="#3c3c3c" stroke-width="1.3"/>
<text x="212.02" y="733.40" font-size="8.4" text-anchor="middle" fill="#2a2a2a" stroke="#2a2a2a" stroke-width="0.3">1.0</text>
<line x1="29.30" y1="530.93" x2="33.10" y2="530.93" stroke="#3c3c3c" stroke-width="1.3"/>
<text x="27.50" y="533.93" font-size="8.4" text-anchor="end" fill="#2a2a2a" stroke="#2a2a2a" stroke-width="0.3">1.0</text>
<text x="125.70" y="745.90" font-size="9.3" text-anchor="middle" fill="#1a1a1a" stroke="#1a1a1a" stroke-width="0.3">Nomogram predicted survival probability</text>
<text transform="translate(9.90 622.60) rotate(-90)" font-size="9.45" text-anchor="middle" fill="#1a1a1a" stroke="#1a1a1a" stroke-width="0.3">Observed fraction survival probability</text>
<line x1="166.10" y1="705.70" x2="175.80" y2="705.70" stroke="#24348c" stroke-width="1.7"/>
<line x1="166.10" y1="713.60" x2="175.80" y2="713.60" stroke="#bdbdbd" stroke-width="1.7"/>
<text x="181.50" y="708.60" font-size="8.0" text-anchor="start" fill="#1e1e1e" stroke="#1e1e1e" stroke-width="0.3">1-year</text>
<text x="181.50" y="716.50" font-size="8.0" text-anchor="start" fill="#1e1e1e" stroke="#1e1e1e" stroke-width="0.3">Ideal line</text>
<clipPath id="cb1"><rect x="264.95" y="523.6" width="185.8" height="198.0"/></clipPath>
<line x1="264.95" y1="721.60" x2="450.75" y2="523.60" stroke="#a3a3a3" stroke-width="1.1" clip-path="url(#cb1)"/>
<line x1="293.90" y1="523.60" x2="293.90" y2="524.40" stroke="#2a519c" stroke-width="1.15"/>
<line x1="294.70" y1="523.60" x2="294.70" y2="524.40" stroke="#2a519c" stroke-width="1.15"/>
<line x1="296.30" y1="523.60" x2="296.30" y2="524.62" stroke="#2a519c" stroke-width="1.15"/>
<line x1="297.10" y1="523.60" x2="297.10" y2="525.17" stroke="#2a519c" stroke-width="1.15"/>
<line x1="305.10" y1="523.60" x2="305.10" y2="524.78" stroke="#2a519c" stroke-width="1.15"/>
<line x1="305.90" y1="523.60" x2="305.90" y2="524.25" stroke="#2a519c" stroke-width="1.15"/>
<line x1="307.50" y1="523.60" x2="307.50" y2="524.86" stroke="#2a519c" stroke-width="1.15"/>
<line x1="309.90" y1="523.60" x2="309.90" y2="524.95" stroke="#2a519c" stroke-width="1.15"/>
<line x1="312.30" y1="523.60" x2="312.30" y2="525.05" stroke="#2a519c" stroke-width="1.15"/>
<line x1="313.10" y1="523.60" x2="313.10" y2="524.68" stroke="#2a519c" stroke-width="1.15"/>
<line x1="327.50" y1="523.60" x2="327.50" y2="525.39" stroke="#2a519c" stroke-width="1.15"/>
<line x1="329.90" y1="523.60" x2="329.90" y2="524.71" stroke="#2a519c" stroke-width="1.15"/>
<line x1="330.70" y1="523.60" x2="330.70" y2="524.64" stroke="#2a519c" stroke-width="1.15"/>
<line x1="331.50" y1="523.60" x2="331.50" y2="524.66" stroke="#2a519c" stroke-width="1.15"/>
<line x1="334.70" y1="523.60" x2="334.70" y2="525.96" stroke="#2a519c" stroke-width="1.15"/>
<line x1="336.30" y1="523.60" x2="336.30" y2="526.36" stroke="#2a519c" stroke-width="1.15"/>
<line x1="337.90" y1="523.60" x2="337.90" y2="526.59" stroke="#2a519c" stroke-width="1.15"/>
<line x1="338.70" y1="523.60" x2="338.70" y2="525.66" stroke="#2a519c" stroke-width="1.15"/>
<line x1="341.10" y1="523.60" x2="341.10" y2="525.62" stroke="#2a519c" stroke-width="1.15"/>
<line x1="342.70" y1="523.60" x2="342.70" y2="525.14" stroke="#2a519c" stroke-width="1.15"/>
<line x1="343.50" y1="523.60" x2="343.50" y2="526.36" stroke="#2a519c" stroke-width="1.15"/>
<line x1="344.30" y1="523.60" x2="344.30" y2="526.00" stroke="#2a519c" stroke-width="1.15"/>
<line x1="345.10" y1="523.60" x2="345.10" y2="524.78" stroke="#2a519c" stroke-width="1.15"/>
<line x1="345.90" y1="523.60" x2="345.90" y2="526.23" stroke="#2a519c" stroke-width="1.15"/>
<line x1="346.70" y1="523.60" x2="346.70" y2="524.91" stroke="#2a519c" stroke-width="1.15"/>
<line x1="349.90" y1="523.60" x2="349.90" y2="525.49" stroke="#2a519c" stroke-width="1.15"/>
<line x1="350.70" y1="523.60" x2="350.70" y2="526.84" stroke="#2a519c" stroke-width="1.15"/>
<line x1="351.50" y1="523.60" x2="351.50" y2="525.20" stroke="#2a519c" stroke-width="1.15"/>
<line x1="352.30" y1="523.60" x2="352.30" y2="527.28" stroke="#2a519c" stroke-width="1.15"/>
<line x1="353.90" y1="523.60" x2="353.90" y2="525.34" stroke="#2a519c" stroke-width="1.15"/>
<line x1="355.50" y1="523.60" x2="355.50" y2="526.91" stroke="#2a519c" stroke-width="1.15"/>
<line x1="356.30" y1="523.60" x2="356.30" y2="525.18" stroke="#2a519c" stroke-width="1.15"/>
<line x1="357.90" y1="523.60" x2="357.90" y2="525.27" stroke="#2a519c" stroke-width="1.15"/>
<line x1="361.10" y1="523.60" x2="361.10" y2="527.70" stroke="#2a519c" stroke-width="1.15"/>
<line x1="361.90" y1="523.60" x2="361.90" y2="527.77" stroke="#2a519c" stroke-width="1.15"/>
<line x1="362.70" y1="523.60" x2="362.70" y2="526.24" stroke="#2a519c" stroke-width="1.15"/>
<line x1="363.50" y1="523.60" x2="363.50" y2="528.07" stroke="#2a519c" stroke-width="1.15"/>
<line x1="364.30" y1="523.60" x2="364.30" y2="525.66" stroke="#2a519c" stroke-width="1.15"/>
<line x1="365.10" y1="523.60" x2="365.10" y2="526.03" stroke="#2a519c" stroke-width="1.15"/>
<line x1="365.90" y1="523.60" x2="365.90" y2="525.82" stroke="#2a519c" stroke-width="1.15"/>
<line x1="366.70" y1="523.60" x2="366.70" y2="525.98" stroke="#2a519c" stroke-width="1.15"/>
<line x1="367.50" y1="523.60" x2="367.50" y2="526.34" stroke="#2a519c" stroke-width="1.15"/>
<line x1="369.10" y1="523.60" x2="369.10" y2="527.05" stroke="#2a519c" stroke-width="1.15"/>
<line x1="369.90" y1="523.60" x2="369.90" y2="526.59" stroke="#2a519c" stroke-width="1.15"/>
<line x1="370.70" y1="523.60" x2="370.70" y2="526.30" stroke="#2a519c" stroke-width="1.15"/>
<line x1="371.50" y1="523.60" x2="371.50" y2="527.95" stroke="#2a519c" stroke-width="1.15"/>
<line x1="372.30" y1="523.60" x2="372.30" y2="526.16" stroke="#2a519c" stroke-width="1.15"/>
<line x1="373.10" y1="523.60" x2="373.10" y2="528.74" stroke="#2a519c" stroke-width="1.15"/>
<line x1="373.90" y1="523.60" x2="373.90" y2="528.39" stroke="#2a519c" stroke-width="1.15"/>
<line x1="374.70" y1="523.60" x2="374.70" y2="527.31" stroke="#2a519c" stroke-width="1.15"/>
<line x1="376.30" y1="523.60" x2="376.30" y2="527.51" stroke="#2a519c" stroke-width="1.15"/>
<line x1="377.10" y1="523.60" x2="377.10" y2="529.38" stroke="#2a519c" stroke-width="1.15"/>
<line x1="377.90" y1="523.60" x2="377.90" y2="528.94" stroke="#2a519c" stroke-width="1.15"/>
<line x1="378.70" y1="523.60" x2="378.70" y2="528.28" stroke="#2a519c" stroke-width="1.15"/>
<line x1="379.50" y1="523.60" x2="379.50" y2="527.22" stroke="#2a519c" stroke-width="1.15"/>
<line x1="380.30" y1="523.60" x2="380.30" y2="526.39" stroke="#2a519c" stroke-width="1.15"/>
<line x1="381.10" y1="523.60" x2="381.10" y2="529.03" stroke="#2a519c" stroke-width="1.15"/>
<line x1="381.90" y1="523.60" x2="381.90" y2="526.64" stroke="#2a519c" stroke-width="1.15"/>
<line x1="382.70" y1="523.60" x2="382.70" y2="529.69" stroke="#2a519c" stroke-width="1.15"/>
<line x1="384.30" y1="523.60" x2="384.30" y2="527.35" stroke="#2a519c" stroke-width="1.15"/>
<line x1="385.10" y1="523.60" x2="385.10" y2="527.47" stroke="#2a519c" stroke-width="1.15"/>
<line x1="385.90" y1="523.60" x2="385.90" y2="526.88" stroke="#2a519c" stroke-width="1.15"/>
<line x1="386.70" y1="523.60" x2="386.70" y2="527.46" stroke="#2a519c" stroke-width="1.15"/>
<line x1="389.10" y1="523.60" x2="389.10" y2="527.55" stroke="#2a519c" stroke-width="1.15"/>
<line x1="390.70" y1="523.60" x2="390.70" y2="528.28" stroke="#2a519c" stroke-width="1.15"/>
<line x1="391.50" y1="523.60" x2="391.50" y2="528.49" stroke="#2a519c" stroke-width="1.15"/>
<line x1="392.30" y1="523.60" x2="392.30" y2="529.24" stroke="#2a519c" stroke-width="1.15"/>
<line x1="393.10" y1="523.60" x2="393.10" y2="529.34" stroke="#2a519c" stroke-width="1.15"/>
<line x1="393.90" y1="523.60" x2="393.90" y2="528.04" stroke="#2a519c" stroke-width="1.15"/>
<line x1="394.70" y1="523.60" x2="394.70" y2="528.90" stroke="#2a519c" stroke-width="1.15"/>
<line x1="395.50" y1="523.60" x2="395.50" y2="526.72" stroke="#2a519c" stroke-width="1.15"/>
<line x1="396.30" y1="523.60" x2="396.30" y2="528.00" stroke="#2a519c" stroke-width="1.15"/>
<line x1="397.10" y1="523.60" x2="397.10" y2="529.78" stroke="#2a519c" stroke-width="1.15"/>
<line x1="397.90" y1="523.60" x2="397.90" y2="530.55" stroke="#2a519c" stroke-width="1.15"/>
<line x1="398.70" y1="523.60" x2="398.70" y2="531.87" stroke="#2a519c" stroke-width="1.15"/>
<line x1="399.50" y1="523.60" x2="399.50" y2="528.56" stroke="#2a519c" stroke-width="1.15"/>
<line x1="401.10" y1="523.60" x2="401.10" y2="530.94" stroke="#2a519c" stroke-width="1.15"/>
<line x1="401.90" y1="523.60" x2="401.90" y2="526.86" stroke="#2a519c" stroke-width="1.15"/>
<line x1="402.70" y1="523.60" x2="402.70" y2="531.95" stroke="#2a519c" stroke-width="1.15"/>
<line x1="403.50" y1="523.60" x2="403.50" y2="531.00" stroke="#2a519c" stroke-width="1.15"/>
<line x1="404.30" y1="523.60" x2="404.30" y2="527.44" stroke="#2a519c" stroke-width="1.15"/>
<line x1="405.10" y1="523.60" x2="405.10" y2="529.63" stroke="#2a519c" stroke-width="1.15"/>
<line x1="405.90" y1="523.60" x2="405.90" y2="531.43" stroke="#2a519c" stroke-width="1.15"/>
<line x1="406.70" y1="523.60" x2="406.70" y2="530.10" stroke="#2a519c" stroke-width="1.15"/>
<line x1="408.30" y1="523.60" x2="408.30" y2="530.76" stroke="#2a519c" stroke-width="1.15"/>
<line x1="409.10" y1="523.60" x2="409.10" y2="526.79" stroke="#2a519c" stroke-width="1.15"/>
<line x1="409.90" y1="523.60" x2="409.90" y2="528.76" stroke="#2a519c" stroke-width="1.15"/>
<line x1="410.70" y1="523.60" x2="410.70" y2="531.61" stroke="#2a519c" stroke-width="1.15"/>
<line x1="411.50" y1="523.60" x2="411.50" y2="530.37" stroke="#2a519c" stroke-width="1.15"/>
<line x1="412.30" y1="523.60" x2="412.30" y2="530.68" stroke="#2a519c" stroke-width="1.15"/>
<line x1="413.10" y1="523.60" x2="413.10" y2="526.62" stroke="#2a519c" stroke-width="1.15"/>
<line x1="413.90" y1="523.60" x2="413.90" y2="531.09" stroke="#2a519c" stroke-width="1.15"/>
<line x1="414.70" y1="523.60" x2="414.70" y2="529.81" stroke="#2a519c" stroke-width="1.15"/>
<line x1="415.50" y1="523.60" x2="415.50" y2="527.00" stroke="#2a519c" stroke-width="1.15"/>
<line x1="416.30" y1="523.60" x2="416.30" y2="528.11" stroke="#2a519c" stroke-width="1.15"/>
<line x1="417.10" y1="523.60" x2="417.10" y2="528.19" stroke="#2a519c" stroke-width="1.15"/>
<line x1="417.90" y1="523.60" x2="417.90" y2="527.83" stroke="#2a519c" stroke-width="1.15"/>
<line x1="418.70" y1="523.60" x2="418.70" y2="532.30" stroke="#2a519c" stroke-width="1.15"/>
<line x1="419.50" y1="523.60" x2="419.50" y2="528.69" stroke="#2a519c" stroke-width="1.15"/>
<line x1="420.30" y1="523.60" x2="420.30" y2="530.26" stroke="#2a519c" stroke-width="1.15"/>
<line x1="421.10" y1="523.60" x2="421.10" y2="529.74" stroke="#2a519c" stroke-width="1.15"/>
<line x1="421.90" y1="523.60" x2="421.90" y2="526.70" stroke="#2a519c" stroke-width="1.15"/>
<line x1="422.70" y1="523.60" x2="422.70" y2="527.54" stroke="#2a519c" stroke-width="1.15"/>
<line x1="423.50" y1="523.60" x2="423.50" y2="527.70" stroke="#2a519c" stroke-width="1.15"/>
<line x1="424.30" y1="523.60" x2="424.30" y2="526.14" stroke="#2a519c" stroke-width="1.15"/>
<line x1="425.10" y1="523.60" x2="425.10" y2="527.31" stroke="#2a519c" stroke-width="1.15"/>
<line x1="425.90" y1="523.60" x2="425.90" y2="529.20" stroke="#2a519c" stroke-width="1.15"/>
<line x1="426.70" y1="523.60" x2="426.70" y2="527.21" stroke="#2a519c" stroke-width="1.15"/>
<line x1="427.50" y1="523.60" x2="427.50" y2="527.88" stroke="#2a519c" stroke-width="1.15"/>
<line x1="428.30" y1="523.60" x2="428.30" y2="526.26" stroke="#2a519c" stroke-width="1.15"/>
<line x1="429.90" y1="523.60" x2="429.90" y2="529.56" stroke="#2a519c" stroke-width="1.15"/>
<polyline points="358.71,612.52 399.14,581.35 418.92,562.10" fill="none" stroke="#24348c" stroke-width="1.4" stroke-linejoin="round" stroke-linecap="butt"/>
<line x1="358.71" y1="592.35" x2="358.71" y2="629.93" stroke="#24348c" stroke-width="1.35"/>
<line x1="357.01" y1="592.35" x2="360.41" y2="592.35" stroke="#24348c" stroke-width="1.2"/>
<line x1="357.01" y1="629.93" x2="360.41" y2="629.93" stroke="#24348c" stroke-width="1.2"/>
<circle cx="358.71" cy="612.52" r="2.5" fill="#1c2f8a"/>
<line x1="357.01" y1="607.82" x2="360.41" y2="611.22" stroke="#2040ff" stroke-width="1.0"/>
<line x1="357.01" y1="611.22" x2="360.41" y2="607.82" stroke="#2040ff" stroke-width="1.0"/>
<line x1="399.14" y1="563.93" x2="399.14" y2="597.85" stroke="#24348c" stroke-width="1.35"/>
<line x1="397.44" y1="563.93" x2="400.84" y2="563.93" stroke="#24348c" stroke-width="1.2"/>
<line x1="397.44" y1="597.85" x2="400.84" y2="597.85" stroke="#24348c" stroke-width="1.2"/>
<circle cx="399.14" cy="581.35" r="2.5" fill="#1c2f8a"/>
<line x1="397.44" y1="581.65" x2="400.84" y2="585.05" stroke="#2040ff" stroke-width="1.0"/>
<line x1="397.44" y1="585.05" x2="400.84" y2="581.65" stroke="#2040ff" stroke-width="1.0"/>
<line x1="418.92" y1="546.52" x2="418.92" y2="575.85" stroke="#24348c" stroke-width="1.35"/>
<line x1="417.22" y1="546.52" x2="420.62" y2="546.52" stroke="#24348c" stroke-width="1.2"/>
<line x1="417.22" y1="575.85" x2="420.62" y2="575.85" stroke="#24348c" stroke-width="1.2"/>
<circle cx="418.92" cy="562.10" r="2.5" fill="#1c2f8a"/>
<line x1="417.22" y1="562.90" x2="420.62" y2="566.30" stroke="#2040ff" stroke-width="1.0"/>
<line x1="417.22" y1="566.30" x2="420.62" y2="562.90" stroke="#2040ff" stroke-width="1.0"/>
<rect x="264.95" y="523.60" width="185.80" height="198.00" fill="none" stroke="#3c3c3c" stroke-width="1.7"/>
<line x1="271.83" y1="721.60" x2="271.83" y2="725.20" stroke="#3c3c3c" stroke-width="1.3"/>
<text x="271.83" y="733.40" font-size="8.4" text-anchor="middle" fill="#2a2a2a" stroke="#2a2a2a" stroke-width="0.3">0.0</text>
<line x1="261.15" y1="714.27" x2="264.95" y2="714.27" stroke="#3c3c3c" stroke-width="1.3"/>
<text x="259.35" y="717.27" font-size="8.4" text-anchor="end" fill="#2a2a2a" stroke="#2a2a2a" stroke-width="0.3">0.0</text>
<line x1="306.24" y1="721.60" x2="306.24" y2="725.20" stroke="#3c3c3c" stroke-width="1.3"/>
<text x="306.24" y="733.40" font-size="8.4" text-anchor="middle" fill="#2a2a2a" stroke="#2a2a2a" stroke-width="0.3">0.2</text>
<line x1="261.15" y1="677.60" x2="264.95" y2="677.60" stroke="#3c3c3c" stroke-width="1.3"/>
<text x="259.35" y="680.60" font-size="8.4" text-anchor="end" fill="#2a2a2a" stroke="#2a2a2a" stroke-width="0.3">0.2</text>
<line x1="340.65" y1="721.60" x2="340.65" y2="725.20" stroke="#3c3c3c" stroke-width="1.3"/>
<text x="340.65" y="733.40" font-size="8.4" text-anchor="middle" fill="#2a2a2a" stroke="#2a2a2a" stroke-width="0.3">0.4</text>
<line x1="261.15" y1="640.93" x2="264.95" y2="640.93" stroke="#3c3c3c" stroke-width="1.3"/>
<text x="259.35" y="643.93" font-size="8.4" text-anchor="end" fill="#2a2a2a" stroke="#2a2a2a" stroke-width="0.3">0.4</text>
<line x1="375.05" y1="721.60" x2="375.05" y2="725.20" stroke="#3c3c3c" stroke-width="1.3"/>
<text x="375.05" y="733.40" font-size="8.4" text-anchor="middle" fill="#2a2a2a" stroke="#2a2a2a" stroke-width="0.3">0.6</text>
<line x1="261.15" y1="604.27" x2="264.95" y2="604.27" stroke="#3c3c3c" stroke-width="1.3"/>
<text x="259.35" y="607.27" font-size="8.4" text-anchor="end" fill="#2a2a2a" stroke="#2a2a2a" stroke-width="0.3">0.6</text>
<line x1="409.46" y1="721.60" x2="409.46" y2="725.20" stroke="#3c3c3c" stroke-width="1.3"/>
<text x="409.46" y="733.40" font-size="8.4" text-anchor="middle" fill="#2a2a2a" stroke="#2a2a2a" stroke-width="0.3">0.8</text>
<line x1="261.15" y1="567.60" x2="264.95" y2="567.60" stroke="#3c3c3c" stroke-width="1.3"/>
<text x="259.35" y="570.60" font-size="8.4" text-anchor="end" fill="#2a2a2a" stroke="#2a2a2a" stroke-width="0.3">0.8</text>
<line x1="443.87" y1="721.60" x2="443.87" y2="725.20" stroke="#3c3c3c" stroke-width="1.3"/>
<text x="443.87" y="733.40" font-size="8.4" text-anchor="middle" fill="#2a2a2a" stroke="#2a2a2a" stroke-width="0.3">1.0</text>
<line x1="261.15" y1="530.93" x2="264.95" y2="530.93" stroke="#3c3c3c" stroke-width="1.3"/>
<text x="259.35" y="533.93" font-size="8.4" text-anchor="end" fill="#2a2a2a" stroke="#2a2a2a" stroke-width="0.3">1.0</text>
<text x="357.55" y="745.90" font-size="9.3" text-anchor="middle" fill="#1a1a1a" stroke="#1a1a1a" stroke-width="0.3">Nomogram predicted survival probability</text>
<text transform="translate(241.75 622.60) rotate(-90)" font-size="9.45" text-anchor="middle" fill="#1a1a1a" stroke="#1a1a1a" stroke-width="0.3">Observed fraction survival probability</text>
<line x1="397.95" y1="705.70" x2="407.65" y2="705.70" stroke="#24348c" stroke-width="1.7"/>
<line x1="397.95" y1="713.60" x2="407.65" y2="713.60" stroke="#bdbdbd" stroke-width="1.7"/>
<text x="413.35" y="708.60" font-size="8.0" text-anchor="start" fill="#1e1e1e" stroke="#1e1e1e" stroke-width="0.3">2-year</text>
<text x="413.35" y="716.50" font-size="8.0" text-anchor="start" fill="#1e1e1e" stroke="#1e1e1e" stroke-width="0.3">Ideal line</text>
<clipPath id="cb2"><rect x="496.8" y="523.6" width="185.8" height="198.0"/></clipPath>
<line x1="496.80" y1="721.60" x2="682.60" y2="523.60" stroke="#a3a3a3" stroke-width="1.1" clip-path="url(#cb2)"/>
<line x1="514.46" y1="523.60" x2="514.46" y2="524.90" stroke="#2a519c" stroke-width="1.15"/>
<line x1="517.66" y1="523.60" x2="517.66" y2="524.56" stroke="#2a519c" stroke-width="1.15"/>
<line x1="519.26" y1="523.60" x2="519.26" y2="525.15" stroke="#2a519c" stroke-width="1.15"/>
<line x1="520.06" y1="523.60" x2="520.06" y2="525.08" stroke="#2a519c" stroke-width="1.15"/>
<line x1="521.66" y1="523.60" x2="521.66" y2="525.57" stroke="#2a519c" stroke-width="1.15"/>
<line x1="524.86" y1="523.60" x2="524.86" y2="525.75" stroke="#2a519c" stroke-width="1.15"/>
<line x1="526.46" y1="523.60" x2="526.46" y2="524.32" stroke="#2a519c" stroke-width="1.15"/>
<line x1="528.86" y1="523.60" x2="528.86" y2="524.56" stroke="#2a519c" stroke-width="1.15"/>
<line x1="529.66" y1="523.60" x2="529.66" y2="524.86" stroke="#2a519c" stroke-width="1.15"/>
<line x1="531.26" y1="523.60" x2="531.26" y2="525.62" stroke="#2a519c" stroke-width="1.15"/>
<line x1="532.86" y1="523.60" x2="532.86" y2="525.94" stroke="#2a519c" stroke-width="1.15"/>
<line x1="535.26" y1="523.60" x2="535.26" y2="525.03" stroke="#2a519c" stroke-width="1.15"/>
<line x1="536.06" y1="523.60" x2="536.06" y2="526.13" stroke="#2a519c" stroke-width="1.15"/>
<line x1="537.66" y1="523.60" x2="537.66" y2="525.16" stroke="#2a519c" stroke-width="1.15"/>
<line x1="538.46" y1="523.60" x2="538.46" y2="524.50" stroke="#2a519c" stroke-width="1.15"/>
<line x1="539.26" y1="523.60" x2="539.26" y2="525.90" stroke="#2a519c" stroke-width="1.15"/>
<line x1="540.06" y1="523.60" x2="540.06" y2="526.09" stroke="#2a519c" stroke-width="1.15"/>
<line x1="540.86" y1="523.60" x2="540.86" y2="524.91" stroke="#2a519c" stroke-width="1.15"/>
<line x1="542.46" y1="523.60" x2="542.46" y2="525.12" stroke="#2a519c" stroke-width="1.15"/>
<line x1="549.66" y1="523.60" x2="549.66" y2="525.89" stroke="#2a519c" stroke-width="1.15"/>
<line x1="552.86" y1="523.60" x2="552.86" y2="524.63" stroke="#2a519c" stroke-width="1.15"/>
<line x1="554.46" y1="523.60" x2="554.46" y2="525.46" stroke="#2a519c" stroke-width="1.15"/>
<line x1="555.26" y1="523.60" x2="555.26" y2="525.13" stroke="#2a519c" stroke-width="1.15"/>
<line x1="557.66" y1="523.60" x2="557.66" y2="525.87" stroke="#2a519c" stroke-width="1.15"/>
<line x1="558.46" y1="523.60" x2="558.46" y2="525.69" stroke="#2a519c" stroke-width="1.15"/>
<line x1="559.26" y1="523.60" x2="559.26" y2="524.92" stroke="#2a519c" stroke-width="1.15"/>
<line x1="560.06" y1="523.60" x2="560.06" y2="525.01" stroke="#2a519c" stroke-width="1.15"/>
<line x1="562.46" y1="523.60" x2="562.46" y2="526.55" stroke="#2a519c" stroke-width="1.15"/>
<line x1="564.06" y1="523.60" x2="564.06" y2="524.99" stroke="#2a519c" stroke-width="1.15"/>
<line x1="564.86" y1="523.60" x2="564.86" y2="524.91" stroke="#2a519c" stroke-width="1.15"/>
<line x1="565.66" y1="523.60" x2="565.66" y2="524.93" stroke="#2a519c" stroke-width="1.15"/>
<line x1="566.46" y1="523.60" x2="566.46" y2="525.34" stroke="#2a519c" stroke-width="1.15"/>
<line x1="569.66" y1="523.60" x2="569.66" y2="525.84" stroke="#2a519c" stroke-width="1.15"/>
<line x1="571.26" y1="523.60" x2="571.26" y2="525.72" stroke="#2a519c" stroke-width="1.15"/>
<line x1="572.06" y1="523.60" x2="572.06" y2="525.59" stroke="#2a519c" stroke-width="1.15"/>
<line x1="573.66" y1="523.60" x2="573.66" y2="526.25" stroke="#2a519c" stroke-width="1.15"/>
<line x1="576.06" y1="523.60" x2="576.06" y2="525.72" stroke="#2a519c" stroke-width="1.15"/>
<line x1="576.86" y1="523.60" x2="576.86" y2="526.11" stroke="#2a519c" stroke-width="1.15"/>
<line x1="577.66" y1="523.60" x2="577.66" y2="527.72" stroke="#2a519c" stroke-width="1.15"/>
<line x1="580.06" y1="523.60" x2="580.06" y2="525.17" stroke="#2a519c" stroke-width="1.15"/>
<line x1="582.46" y1="523.60" x2="582.46" y2="527.00" stroke="#2a519c" stroke-width="1.15"/>
<line x1="583.26" y1="523.60" x2="583.26" y2="526.46" stroke="#2a519c" stroke-width="1.15"/>
<line x1="587.26" y1="523.60" x2="587.26" y2="525.81" stroke="#2a519c" stroke-width="1.15"/>
<line x1="588.06" y1="523.60" x2="588.06" y2="527.32" stroke="#2a519c" stroke-width="1.15"/>
<line x1="591.26" y1="523.60" x2="591.26" y2="528.55" stroke="#2a519c" stroke-width="1.15"/>
<line x1="592.06" y1="523.60" x2="592.06" y2="527.81" stroke="#2a519c" stroke-width="1.15"/>
<line x1="592.86" y1="523.60" x2="592.86" y2="528.80" stroke="#2a519c" stroke-width="1.15"/>
<line x1="593.66" y1="523.60" x2="593.66" y2="529.44" stroke="#2a519c" stroke-width="1.15"/>
<line x1="594.46" y1="523.60" x2="594.46" y2="527.04" stroke="#2a519c" stroke-width="1.15"/>
<line x1="595.26" y1="523.60" x2="595.26" y2="526.89" stroke="#2a519c" stroke-width="1.15"/>
<line x1="596.06" y1="523.60" x2="596.06" y2="528.81" stroke="#2a519c" stroke-width="1.15"/>
<line x1="596.86" y1="523.60" x2="596.86" y2="526.23" stroke="#2a519c" stroke-width="1.15"/>
<line x1="597.66" y1="523.60" x2="597.66" y2="528.49" stroke="#2a519c" stroke-width="1.15"/>
<line x1="598.46" y1="523.60" x2="598.46" y2="527.00" stroke="#2a519c" stroke-width="1.15"/>
<line x1="599.26" y1="523.60" x2="599.26" y2="526.11" stroke="#2a519c" stroke-width="1.15"/>
<line x1="600.06" y1="523.60" x2="600.06" y2="528.17" stroke="#2a519c" stroke-width="1.15"/>
<line x1="601.66" y1="523.60" x2="601.66" y2="530.20" stroke="#2a519c" stroke-width="1.15"/>
<line x1="602.46" y1="523.60" x2="602.46" y2="527.24" stroke="#2a519c" stroke-width="1.15"/>
<line x1="603.26" y1="523.60" x2="603.26" y2="530.68" stroke="#2a519c" stroke-width="1.15"/>
<line x1="604.06" y1="523.60" x2="604.06" y2="527.64" stroke="#2a519c" stroke-width="1.15"/>
<line x1="604.86" y1="523.60" x2="604.86" y2="528.59" stroke="#2a519c" stroke-width="1.15"/>
<line x1="605.66" y1="523.60" x2="605.66" y2="528.25" stroke="#2a519c" stroke-width="1.15"/>
<line x1="606.46" y1="523.60" x2="606.46" y2="529.50" stroke="#2a519c" stroke-width="1.15"/>
<line x1="608.06" y1="523.60" x2="608.06" y2="526.44" stroke="#2a519c" stroke-width="1.15"/>
<line x1="608.86" y1="523.60" x2="608.86" y2="528.41" stroke="#2a519c" stroke-width="1.15"/>
<line x1="609.66" y1="523.60" x2="609.66" y2="527.31" stroke="#2a519c" stroke-width="1.15"/>
<line x1="611.26" y1="523.60" x2="611.26" y2="528.96" stroke="#2a519c" stroke-width="1.15"/>
<line x1="612.06" y1="523.60" x2="612.06" y2="531.44" stroke="#2a519c" stroke-width="1.15"/>
<line x1="612.86" y1="523.60" x2="612.86" y2="530.71" stroke="#2a519c" stroke-width="1.15"/>
<line x1="613.66" y1="523.60" x2="613.66" y2="527.57" stroke="#2a519c" stroke-width="1.15"/>
<line x1="614.46" y1="523.60" x2="614.46" y2="527.99" stroke="#2a519c" stroke-width="1.15"/>
<line x1="616.06" y1="523.60" x2="616.06" y2="527.46" stroke="#2a519c" stroke-width="1.15"/>
<line x1="616.86" y1="523.60" x2="616.86" y2="528.76" stroke="#2a519c" stroke-width="1.15"/>
<line x1="617.66" y1="523.60" x2="617.66" y2="531.78" stroke="#2a519c" stroke-width="1.15"/>
<line x1="618.46" y1="523.60" x2="618.46" y2="528.71" stroke="#2a519c" stroke-width="1.15"/>
<line x1="619.26" y1="523.60" x2="619.26" y2="532.05" stroke="#2a519c" stroke-width="1.15"/>
<line x1="620.06" y1="523.60" x2="620.06" y2="526.81" stroke="#2a519c" stroke-width="1.15"/>
<line x1="620.86" y1="523.60" x2="620.86" y2="528.81" stroke="#2a519c" stroke-width="1.15"/>
<line x1="623.26" y1="523.60" x2="623.26" y2="532.51" stroke="#2a519c" stroke-width="1.15"/>
<line x1="624.86" y1="523.60" x2="624.86" y2="527.71" stroke="#2a519c" stroke-width="1.15"/>
<line x1="626.46" y1="523.60" x2="626.46" y2="526.79" stroke="#2a519c" stroke-width="1.15"/>
<line x1="627.26" y1="523.60" x2="627.26" y2="528.85" stroke="#2a519c" stroke-width="1.15"/>
<line x1="628.06" y1="523.60" x2="628.06" y2="528.56" stroke="#2a519c" stroke-width="1.15"/>
<line x1="628.86" y1="523.60" x2="628.86" y2="526.62" stroke="#2a519c" stroke-width="1.15"/>
<line x1="629.66" y1="523.60" x2="629.66" y2="528.67" stroke="#2a519c" stroke-width="1.15"/>
<line x1="631.26" y1="523.60" x2="631.26" y2="532.25" stroke="#2a519c" stroke-width="1.15"/>
<line x1="632.06" y1="523.60" x2="632.06" y2="528.68" stroke="#2a519c" stroke-width="1.15"/>
<line x1="632.86" y1="523.60" x2="632.86" y2="531.39" stroke="#2a519c" stroke-width="1.15"/>
<line x1="633.66" y1="523.60" x2="633.66" y2="526.89" stroke="#2a519c" stroke-width="1.15"/>
<line x1="634.46" y1="523.60" x2="634.46" y2="528.76" stroke="#2a519c" stroke-width="1.15"/>
<line x1="636.06" y1="523.60" x2="636.06" y2="528.70" stroke="#2a519c" stroke-width="1.15"/>
<line x1="637.66" y1="523.60" x2="637.66" y2="528.96" stroke="#2a519c" stroke-width="1.15"/>
<line x1="638.46" y1="523.60" x2="638.46" y2="530.99" stroke="#2a519c" stroke-width="1.15"/>
<line x1="639.26" y1="523.60" x2="639.26" y2="526.80" stroke="#2a519c" stroke-width="1.15"/>
<line x1="640.06" y1="523.60" x2="640.06" y2="531.84" stroke="#2a519c" stroke-width="1.15"/>
<line x1="640.86" y1="523.60" x2="640.86" y2="530.84" stroke="#2a519c" stroke-width="1.15"/>
<line x1="642.46" y1="523.60" x2="642.46" y2="528.14" stroke="#2a519c" stroke-width="1.15"/>
<line x1="644.06" y1="523.60" x2="644.06" y2="528.07" stroke="#2a519c" stroke-width="1.15"/>
<line x1="644.86" y1="523.60" x2="644.86" y2="528.37" stroke="#2a519c" stroke-width="1.15"/>
<line x1="645.66" y1="523.60" x2="645.66" y2="526.62" stroke="#2a519c" stroke-width="1.15"/>
<line x1="646.46" y1="523.60" x2="646.46" y2="531.70" stroke="#2a519c" stroke-width="1.15"/>
<line x1="647.26" y1="523.60" x2="647.26" y2="531.84" stroke="#2a519c" stroke-width="1.15"/>
<line x1="648.06" y1="523.60" x2="648.06" y2="527.89" stroke="#2a519c" stroke-width="1.15"/>
<line x1="648.86" y1="523.60" x2="648.86" y2="531.88" stroke="#2a519c" stroke-width="1.15"/>
<line x1="650.46" y1="523.60" x2="650.46" y2="527.89" stroke="#2a519c" stroke-width="1.15"/>
<line x1="651.26" y1="523.60" x2="651.26" y2="529.04" stroke="#2a519c" stroke-width="1.15"/>
<line x1="652.86" y1="523.60" x2="652.86" y2="530.26" stroke="#2a519c" stroke-width="1.15"/>
<line x1="653.66" y1="523.60" x2="653.66" y2="530.15" stroke="#2a519c" stroke-width="1.15"/>
<line x1="654.46" y1="523.60" x2="654.46" y2="528.93" stroke="#2a519c" stroke-width="1.15"/>
<line x1="655.26" y1="523.60" x2="655.26" y2="527.44" stroke="#2a519c" stroke-width="1.15"/>
<line x1="656.06" y1="523.60" x2="656.06" y2="529.35" stroke="#2a519c" stroke-width="1.15"/>
<line x1="656.86" y1="523.60" x2="656.86" y2="526.64" stroke="#2a519c" stroke-width="1.15"/>
<line x1="657.66" y1="523.60" x2="657.66" y2="526.73" stroke="#2a519c" stroke-width="1.15"/>
<line x1="658.46" y1="523.60" x2="658.46" y2="525.74" stroke="#2a519c" stroke-width="1.15"/>
<polyline points="577.66,629.93 621.53,594.18 644.75,562.10" fill="none" stroke="#24348c" stroke-width="1.4" stroke-linejoin="round" stroke-linecap="butt"/>
<line x1="577.66" y1="606.10" x2="577.66" y2="649.18" stroke="#24348c" stroke-width="1.35"/>
<line x1="575.96" y1="606.10" x2="579.36" y2="606.10" stroke="#24348c" stroke-width="1.2"/>
<line x1="575.96" y1="649.18" x2="579.36" y2="649.18" stroke="#24348c" stroke-width="1.2"/>
<circle cx="577.66" cy="629.93" r="2.5" fill="#1c2f8a"/>
<line x1="575.96" y1="624.23" x2="579.36" y2="627.63" stroke="#2040ff" stroke-width="1.0"/>
<line x1="575.96" y1="627.63" x2="579.36" y2="624.23" stroke="#2040ff" stroke-width="1.0"/>
<line x1="621.53" y1="573.10" x2="621.53" y2="611.60" stroke="#24348c" stroke-width="1.35"/>
<line x1="619.83" y1="573.10" x2="623.23" y2="573.10" stroke="#24348c" stroke-width="1.2"/>
<line x1="619.83" y1="611.60" x2="623.23" y2="611.60" stroke="#24348c" stroke-width="1.2"/>
<circle cx="621.53" cy="594.18" r="2.5" fill="#1c2f8a"/>
<line x1="619.83" y1="593.68" x2="623.23" y2="597.08" stroke="#2040ff" stroke-width="1.0"/>
<line x1="619.83" y1="597.08" x2="623.23" y2="593.68" stroke="#2040ff" stroke-width="1.0"/>
<line x1="644.75" y1="546.52" x2="644.75" y2="575.85" stroke="#24348c" stroke-width="1.35"/>
<line x1="643.05" y1="546.52" x2="646.45" y2="546.52" stroke="#24348c" stroke-width="1.2"/>
<line x1="643.05" y1="575.85" x2="646.45" y2="575.85" stroke="#24348c" stroke-width="1.2"/>
<circle cx="644.75" cy="562.10" r="2.5" fill="#1c2f8a"/>
<line x1="643.05" y1="562.40" x2="646.45" y2="565.80" stroke="#2040ff" stroke-width="1.0"/>
<line x1="643.05" y1="565.80" x2="646.45" y2="562.40" stroke="#2040ff" stroke-width="1.0"/>
<rect x="496.80" y="523.60" width="185.80" height="198.00" fill="none" stroke="#3c3c3c" stroke-width="1.7"/>
<line x1="503.68" y1="721.60" x2="503.68" y2="725.20" stroke="#3c3c3c" stroke-width="1.3"/>
<text x="503.68" y="733.40" font-size="8.4" text-anchor="middle" fill="#2a2a2a" stroke="#2a2a2a" stroke-width="0.3">0.0</text>
<line x1="493.00" y1="714.27" x2="496.80" y2="714.27" stroke="#3c3c3c" stroke-width="1.3"/>
<text x="491.20" y="717.27" font-size="8.4" text-anchor="end" fill="#2a2a2a" stroke="#2a2a2a" stroke-width="0.3">0.0</text>
<line x1="538.09" y1="721.60" x2="538.09" y2="725.20" stroke="#3c3c3c" stroke-width="1.3"/>
<text x="538.09" y="733.40" font-size="8.4" text-anchor="middle" fill="#2a2a2a" stroke="#2a2a2a" stroke-width="0.3">0.2</text>
<line x1="493.00" y1="677.60" x2="496.80" y2="677.60" stroke="#3c3c3c" stroke-width="1.3"/>
<text x="491.20" y="680.60" font-size="8.4" text-anchor="end" fill="#2a2a2a" stroke="#2a2a2a" stroke-width="0.3">0.2</text>
<line x1="572.50" y1="721.60" x2="572.50" y2="725.20" stroke="#3c3c3c" stroke-width="1.3"/>
<text x="572.50" y="733.40" font-size="8.4" text-anchor="middle" fill="#2a2a2a" stroke="#2a2a2a" stroke-width="0.3">0.4</text>
<line x1="493.00" y1="640.93" x2="496.80" y2="640.93" stroke="#3c3c3c" stroke-width="1.3"/>
<text x="491.20" y="643.93" font-size="8.4" text-anchor="end" fill="#2a2a2a" stroke="#2a2a2a" stroke-width="0.3">0.4</text>
<line x1="606.90" y1="721.60" x2="606.90" y2="725.20" stroke="#3c3c3c" stroke-width="1.3"/>
<text x="606.90" y="733.40" font-size="8.4" text-anchor="middle" fill="#2a2a2a" stroke="#2a2a2a" stroke-width="0.3">0.6</text>
<line x1="493.00" y1="604.27" x2="496.80" y2="604.27" stroke="#3c3c3c" stroke-width="1.3"/>
<text x="491.20" y="607.27" font-size="8.4" text-anchor="end" fill="#2a2a2a" stroke="#2a2a2a" stroke-width="0.3">0.6</text>
<line x1="641.31" y1="721.60" x2="641.31" y2="725.20" stroke="#3c3c3c" stroke-width="1.3"/>
<text x="641.31" y="733.40" font-size="8.4" text-anchor="middle" fill="#2a2a2a" stroke="#2a2a2a" stroke-width="0.3">0.8</text>
<line x1="493.00" y1="567.60" x2="496.80" y2="567.60" stroke="#3c3c3c" stroke-width="1.3"/>
<text x="491.20" y="570.60" font-size="8.4" text-anchor="end" fill="#2a2a2a" stroke="#2a2a2a" stroke-width="0.3">0.8</text>
<line x1="675.72" y1="721.60" x2="675.72" y2="725.20" stroke="#3c3c3c" stroke-width="1.3"/>
<text x="675.72" y="733.40" font-size="8.4" text-anchor="middle" fill="#2a2a2a" stroke="#2a2a2a" stroke-width="0.3">1.0</text>
<line x1="493.00" y1="530.93" x2="496.80" y2="530.93" stroke="#3c3c3c" stroke-width="1.3"/>
<text x="491.20" y="533.93" font-size="8.4" text-anchor="end" fill="#2a2a2a" stroke="#2a2a2a" stroke-width="0.3">1.0</text>
<text x="589.40" y="745.90" font-size="9.3" text-anchor="middle" fill="#1a1a1a" stroke="#1a1a1a" stroke-width="0.3">Nomogram predicted survival probability</text>
<text transform="translate(473.60 622.60) rotate(-90)" font-size="9.45" text-anchor="middle" fill="#1a1a1a" stroke="#1a1a1a" stroke-width="0.3">Observed fraction survival probability</text>
<line x1="629.80" y1="705.70" x2="639.50" y2="705.70" stroke="#24348c" stroke-width="1.7"/>
<line x1="629.80" y1="713.60" x2="639.50" y2="713.60" stroke="#bdbdbd" stroke-width="1.7"/>
<text x="645.20" y="708.60" font-size="8.0" text-anchor="start" fill="#1e1e1e" stroke="#1e1e1e" stroke-width="0.3">3-year</text>
<text x="645.20" y="716.50" font-size="8.0" text-anchor="start" fill="#1e1e1e" stroke="#1e1e1e" stroke-width="0.3">Ideal line</text>
<text x="4.0" y="762.5" font-family="'Liberation Serif', serif" font-weight="bold" font-size="25.8" fill="#000">C</text>
<line x1="48.72" y1="907.80" x2="212.23" y2="907.80" stroke="#5bbb55" stroke-width="1.9"/>
<polyline points="48.72,761.38 49.55,765.23 50.39,769.13 51.22,773.06 52.06,777.04 52.89,781.05 53.72,785.11 54.56,789.21 55.39,793.36 56.23,797.55 57.06,801.78 57.90,806.06 58.73,810.38 59.56,814.75 60.40,819.17 61.23,823.64 62.07,828.15 62.90,832.72 63.73,837.33 64.57,842.00 65.40,846.72 66.24,851.49 67.07,856.32 67.91,861.21 68.74,866.14 69.57,871.14 70.41,876.20 71.24,881.31 72.08,886.48 72.91,891.72 73.75,897.01 74.58,902.37 75.41,907.80 76.25,913.29 77.08,918.85 77.92,924.47 78.75,930.17 79.59,935.94 80.42,941.78" fill="none" stroke="#ee3a3a" stroke-width="1.9" stroke-linejoin="round" stroke-linecap="butt"/>
<polyline points="48.72,761.38 49.55,765.23 50.39,769.13 51.22,773.06 52.06,777.04 52.89,781.05 53.72,785.11 54.56,789.21 55.39,793.36 56.23,797.55 57.06,801.78 57.30,802.00 59.90,813.30 62.20,815.50 64.30,821.00 66.00,831.50 68.20,841.00 70.30,857.50 72.10,858.30 73.80,854.90 75.50,854.00 77.30,859.20 79.00,858.30 80.70,862.70 81.60,858.30 83.30,864.40 85.90,869.60 88.50,869.60 90.60,868.40 92.90,871.30 95.10,879.10 97.20,879.60 99.80,885.20 102.40,887.80 105.00,892.10 107.60,893.80 110.20,893.00 111.90,892.50 113.70,896.40 116.30,898.20 118.90,902.20 121.50,904.20 123.50,904.80 124.90,906.80 126.70,912.00 131.00,912.90" fill="none" stroke="#2b3a8c" stroke-width="1.8" stroke-linejoin="round" stroke-linecap="butt"/>
<line x1="44.00" y1="755.40" x2="44.00" y2="947.55" stroke="#3a3a3a" stroke-width="1.7"/>
<line x1="43.15" y1="946.70" x2="217.10" y2="946.70" stroke="#3a3a3a" stroke-width="1.7"/>
<line x1="47.05" y1="946.70" x2="47.05" y2="951.30" stroke="#3a3a3a" stroke-width="1.5"/>
<text x="47.05" y="962.90" font-size="9.9" text-anchor="middle" fill="#262626" stroke="#262626" stroke-width="0.3">0.0</text>
<line x1="80.42" y1="946.70" x2="80.42" y2="951.30" stroke="#3a3a3a" stroke-width="1.5"/>
<text x="80.42" y="962.90" font-size="9.9" text-anchor="middle" fill="#262626" stroke="#262626" stroke-width="0.3">0.2</text>
<line x1="113.79" y1="946.70" x2="113.79" y2="951.30" stroke="#3a3a3a" stroke-width="1.5"/>
<text x="113.79" y="962.90" font-size="9.9" text-anchor="middle" fill="#262626" stroke="#262626" stroke-width="0.3">0.4</text>
<line x1="147.16" y1="946.70" x2="147.16" y2="951.30" stroke="#3a3a3a" stroke-width="1.5"/>
<text x="147.16" y="962.90" font-size="9.9" text-anchor="middle" fill="#262626" stroke="#262626" stroke-width="0.3">0.6</text>
<line x1="180.53" y1="946.70" x2="180.53" y2="951.30" stroke="#3a3a3a" stroke-width="1.5"/>
<text x="180.53" y="962.90" font-size="9.9" text-anchor="middle" fill="#262626" stroke="#262626" stroke-width="0.3">0.8</text>
<line x1="213.90" y1="946.70" x2="213.90" y2="951.30" stroke="#3a3a3a" stroke-width="1.5"/>
<text x="213.90" y="962.90" font-size="9.9" text-anchor="middle" fill="#262626" stroke="#262626" stroke-width="0.3">1.0</text>
<line x1="39.80" y1="771.90" x2="44.00" y2="771.90" stroke="#3a3a3a" stroke-width="1.5"/>
<text x="35.70" y="775.40" font-size="9.9" text-anchor="end" fill="#262626" stroke="#262626" stroke-width="0.3">0.15</text>
<line x1="39.80" y1="817.20" x2="44.00" y2="817.20" stroke="#3a3a3a" stroke-width="1.5"/>
<text x="35.70" y="820.70" font-size="9.9" text-anchor="end" fill="#262626" stroke="#262626" stroke-width="0.3">0.10</text>
<line x1="39.80" y1="862.50" x2="44.00" y2="862.50" stroke="#3a3a3a" stroke-width="1.5"/>
<text x="35.70" y="866.00" font-size="9.9" text-anchor="end" fill="#262626" stroke="#262626" stroke-width="0.3">0.05</text>
<line x1="39.80" y1="907.80" x2="44.00" y2="907.80" stroke="#3a3a3a" stroke-width="1.5"/>
<text x="35.70" y="911.30" font-size="9.9" text-anchor="end" fill="#262626" stroke="#262626" stroke-width="0.3">0.00</text>
<text x="130.55" y="976.40" font-size="11.25" text-anchor="middle" fill="#1a1a1a" stroke="#1a1a1a" stroke-width="0.3">Threshold Probability</text>
<text x="127.00" y="765.80" font-size="9.7" text-anchor="start" fill="#1a1a1a" stroke="#1a1a1a" stroke-width="0.3">1-year</text>
<line x1="127.00" y1="774.80" x2="136.80" y2="774.80" stroke="#2b3a8c" stroke-width="1.9"/>
<text x="142.60" y="778.20" font-size="9.8" text-anchor="start" fill="#1a1a1a" stroke="#1a1a1a" stroke-width="0.3">m6A-RPS score</text>
<line x1="127.00" y1="786.10" x2="136.80" y2="786.10" stroke="#ee3a3a" stroke-width="1.9"/>
<text x="142.60" y="789.50" font-size="9.8" text-anchor="start" fill="#1a1a1a" stroke="#1a1a1a" stroke-width="0.3">All positive</text>
<line x1="127.00" y1="797.40" x2="136.80" y2="797.40" stroke="#5bbb55" stroke-width="1.9"/>
<text x="142.60" y="800.80" font-size="9.8" text-anchor="start" fill="#1a1a1a" stroke="#1a1a1a" stroke-width="0.3">All negative</text>
<line x1="274.82" y1="917.40" x2="443.48" y2="917.40" stroke="#5bbb55" stroke-width="1.9"/>
<polyline points="274.82,760.68 275.68,762.60 276.54,764.54 277.40,766.50 278.26,768.48 279.12,770.48 279.98,772.50 280.84,774.55 281.71,776.61 282.57,778.70 283.43,780.80 284.29,782.93 285.15,785.09 286.01,787.26 286.87,789.47 287.73,791.69 288.59,793.94 289.45,796.21 290.31,798.51 291.17,800.84 292.03,803.19 292.89,805.56 293.75,807.97 294.61,810.40 295.47,812.86 296.33,815.35 297.19,817.87 298.05,820.41 298.92,822.99 299.78,825.60 300.64,828.23 301.50,830.90 302.36,833.60 303.22,836.34 304.08,839.11 304.94,841.91 305.80,844.75 306.66,847.62 307.52,850.53 308.38,853.47 309.24,856.45 310.10,859.47 310.96,862.53 311.82,865.63 312.68,868.76 313.54,871.94 314.40,875.16 315.26,878.43 316.13,881.73 316.99,885.08 317.85,888.48 318.71,891.92 319.57,895.41 320.43,898.95 321.29,902.54 322.15,906.18 323.01,909.86 323.87,913.61 324.73,917.40 325.59,921.25 326.45,925.15 327.31,929.12 328.17,933.14 329.03,937.21 329.89,941.36" fill="none" stroke="#ee3a3a" stroke-width="1.9" stroke-linejoin="round" stroke-linecap="butt"/>
<polyline points="274.82,760.68 275.68,762.60 276.54,764.54 277.40,766.50 278.26,768.48 279.12,770.48 279.98,772.50 280.84,774.55 281.71,776.61 282.57,778.70 283.43,780.80 284.29,782.93 285.15,785.09 286.01,787.26 286.87,789.47 287.73,791.69 288.59,793.94 289.45,796.21 290.31,798.51 291.17,800.84 292.03,803.19 292.89,805.56 293.75,807.97 294.61,810.40 295.47,812.86 296.33,815.35 297.19,817.87 298.05,820.41 298.92,822.99 299.78,825.60 300.00,824.10 304.80,840.10 311.20,854.60 315.30,864.20 317.70,873.90 319.30,878.70 320.90,878.40 323.30,873.60 326.00,872.30 328.90,873.90 331.30,877.10 333.70,883.50 336.10,887.50 338.50,889.90 341.00,894.70 344.20,896.40 347.90,898.00 351.40,894.40 354.60,895.60 357.00,896.40 360.20,898.00 362.60,902.80 365.80,906.80 368.30,910.80 369.90,910.00 371.50,912.40 374.70,914.80 376.80,919.60 378.70,917.20 381.10,914.00 382.70,916.40 384.80,917.60 386.70,915.60 389.10,918.50 392.30,919.60 396.00,920.40 399.60,924.50 403.60,926.10" fill="none" stroke="#2b3a8c" stroke-width="1.8" stroke-linejoin="round" stroke-linecap="butt"/>
<line x1="269.90" y1="755.40" x2="269.90" y2="947.55" stroke="#3a3a3a" stroke-width="1.7"/>
<line x1="269.05" y1="946.70" x2="448.40" y2="946.70" stroke="#3a3a3a" stroke-width="1.7"/>
<line x1="273.10" y1="946.70" x2="273.10" y2="951.30" stroke="#3a3a3a" stroke-width="1.5"/>
<text x="273.10" y="962.90" font-size="9.9" text-anchor="middle" fill="#262626" stroke="#262626" stroke-width="0.3">0.0</text>
<line x1="307.52" y1="946.70" x2="307.52" y2="951.30" stroke="#3a3a3a" stroke-width="1.5"/>
<text x="307.52" y="962.90" font-size="9.9" text-anchor="middle" fill="#262626" stroke="#262626" stroke-width="0.3">0.2</text>
<line x1="341.94" y1="946.70" x2="341.94" y2="951.30" stroke="#3a3a3a" stroke-width="1.5"/>
<text x="341.94" y="962.90" font-size="9.9" text-anchor="middle" fill="#262626" stroke="#262626" stroke-width="0.3">0.4</text>
<line x1="376.36" y1="946.70" x2="376.36" y2="951.30" stroke="#3a3a3a" stroke-width="1.5"/>
<text x="376.36" y="962.90" font-size="9.9" text-anchor="middle" fill="#262626" stroke="#262626" stroke-width="0.3">0.6</text>
<line x1="410.78" y1="946.70" x2="410.78" y2="951.30" stroke="#3a3a3a" stroke-width="1.5"/>
<text x="410.78" y="962.90" font-size="9.9" text-anchor="middle" fill="#262626" stroke="#262626" stroke-width="0.3">0.8</text>
<line x1="445.20" y1="946.70" x2="445.20" y2="951.30" stroke="#3a3a3a" stroke-width="1.5"/>
<text x="445.20" y="962.90" font-size="9.9" text-anchor="middle" fill="#262626" stroke="#262626" stroke-width="0.3">1.0</text>
<line x1="265.70" y1="756.90" x2="269.90" y2="756.90" stroke="#3a3a3a" stroke-width="1.5"/>
<text x="261.60" y="760.40" font-size="9.9" text-anchor="end" fill="#262626" stroke="#262626" stroke-width="0.3">0.3</text>
<line x1="265.70" y1="810.40" x2="269.90" y2="810.40" stroke="#3a3a3a" stroke-width="1.5"/>
<text x="261.60" y="813.90" font-size="9.9" text-anchor="end" fill="#262626" stroke="#262626" stroke-width="0.3">0.2</text>
<line x1="265.70" y1="863.90" x2="269.90" y2="863.90" stroke="#3a3a3a" stroke-width="1.5"/>
<text x="261.60" y="867.40" font-size="9.9" text-anchor="end" fill="#262626" stroke="#262626" stroke-width="0.3">0.1</text>
<line x1="265.70" y1="917.40" x2="269.90" y2="917.40" stroke="#3a3a3a" stroke-width="1.5"/>
<text x="261.60" y="920.90" font-size="9.9" text-anchor="end" fill="#262626" stroke="#262626" stroke-width="0.3">0.0</text>
<text x="359.15" y="976.40" font-size="11.25" text-anchor="middle" fill="#1a1a1a" stroke="#1a1a1a" stroke-width="0.3">Threshold Probability</text>
<text x="358.95" y="765.80" font-size="9.7" text-anchor="start" fill="#1a1a1a" stroke="#1a1a1a" stroke-width="0.3">2-year</text>
<line x1="358.95" y1="774.80" x2="368.75" y2="774.80" stroke="#2b3a8c" stroke-width="1.9"/>
<text x="374.55" y="778.20" font-size="9.8" text-anchor="start" fill="#1a1a1a" stroke="#1a1a1a" stroke-width="0.3">m6A-RPS score</text>
<line x1="358.95" y1="786.10" x2="368.75" y2="786.10" stroke="#ee3a3a" stroke-width="1.9"/>
<text x="374.55" y="789.50" font-size="9.8" text-anchor="start" fill="#1a1a1a" stroke="#1a1a1a" stroke-width="0.3">All positive</text>
<line x1="358.95" y1="797.40" x2="368.75" y2="797.40" stroke="#5bbb55" stroke-width="1.9"/>
<text x="374.55" y="800.80" font-size="9.8" text-anchor="start" fill="#1a1a1a" stroke="#1a1a1a" stroke-width="0.3">All negative</text>
<line x1="507.02" y1="921.50" x2="675.58" y2="921.50" stroke="#5bbb55" stroke-width="1.9"/>
<polyline points="507.02,759.28 507.88,760.69 508.74,762.11 509.60,763.55 510.46,765.01 511.32,766.47 512.18,767.96 513.04,769.46 513.90,770.97 514.76,772.51 515.62,774.05 516.48,775.62 517.34,777.20 518.20,778.80 519.06,780.41 519.92,782.05 520.78,783.70 521.64,785.37 522.50,787.06 523.36,788.76 524.22,790.49 525.08,792.23 525.94,794.00 526.80,795.79 527.66,797.59 528.52,799.42 529.38,801.27 530.24,803.14 531.10,805.03 531.96,806.94 532.82,808.88 533.68,810.84 534.54,812.83 535.40,814.83 536.26,816.87 537.12,818.92 537.98,821.01 538.84,823.11 539.70,825.25 540.56,827.41 541.42,829.60 542.28,831.82 543.14,834.06 544.00,836.34 544.86,838.64 545.72,840.98 546.58,843.34 547.44,845.74 548.30,848.17 549.16,850.63 550.02,853.12 550.88,855.65 551.74,858.21 552.60,860.81 553.46,863.44 554.32,866.12 555.18,868.82 556.04,871.57 556.90,874.36 557.76,877.18 558.62,880.05 559.48,882.96 560.34,885.91 561.20,888.91 562.06,891.95 562.92,895.03 563.78,898.17 564.64,901.35 565.50,904.58 566.36,907.86 567.22,911.19 568.08,914.57 568.94,918.01 569.80,921.50 570.66,925.05 571.52,928.65 572.38,932.32 573.24,936.05 574.10,939.83" fill="none" stroke="#ee3a3a" stroke-width="1.9" stroke-linejoin="round" stroke-linecap="butt"/>
<polyline points="507.02,759.28 507.88,760.69 508.74,762.11 509.60,763.55 510.46,765.01 511.32,766.47 512.18,767.96 513.04,769.46 513.90,770.97 514.76,772.51 515.62,774.05 516.48,775.62 517.34,777.20 518.20,778.80 519.06,780.41 519.92,782.05 520.78,783.70 521.64,785.37 522.50,787.06 523.36,788.76 524.22,790.49 525.08,792.23 525.94,794.00 526.80,795.79 527.66,797.59 528.52,799.42 529.38,801.27 530.24,803.14 531.10,805.03 531.96,806.94 532.40,810.80 538.00,820.40 542.00,832.50 544.50,842.90 549.30,851.00 554.10,857.40 556.50,861.40 558.90,867.00 561.30,875.80 564.50,879.90 568.50,875.80 572.60,871.80 575.00,873.00 577.90,871.00 580.60,878.30 583.00,883.90 585.40,885.50 587.00,890.30 589.70,893.80 593.40,890.30 595.00,896.70 598.30,896.70 600.70,899.90 603.90,905.50 606.30,906.00 607.90,907.20 610.30,906.40 612.70,911.20 615.90,912.80 618.30,912.00 620.70,914.40 624.70,918.40 627.20,921.60 629.20,916.30" fill="none" stroke="#2b3a8c" stroke-width="1.8" stroke-linejoin="round" stroke-linecap="butt"/>
<line x1="501.90" y1="755.40" x2="501.90" y2="947.55" stroke="#3a3a3a" stroke-width="1.7"/>
<line x1="501.05" y1="946.70" x2="680.50" y2="946.70" stroke="#3a3a3a" stroke-width="1.7"/>
<line x1="505.30" y1="946.70" x2="505.30" y2="951.30" stroke="#3a3a3a" stroke-width="1.5"/>
<text x="505.30" y="962.90" font-size="9.9" text-anchor="middle" fill="#262626" stroke="#262626" stroke-width="0.3">0.0</text>
<line x1="539.70" y1="946.70" x2="539.70" y2="951.30" stroke="#3a3a3a" stroke-width="1.5"/>
<text x="539.70" y="962.90" font-size="9.9" text-anchor="middle" fill="#262626" stroke="#262626" stroke-width="0.3">0.2</text>
<line x1="574.10" y1="946.70" x2="574.10" y2="951.30" stroke="#3a3a3a" stroke-width="1.5"/>
<text x="574.10" y="962.90" font-size="9.9" text-anchor="middle" fill="#262626" stroke="#262626" stroke-width="0.3">0.4</text>
<line x1="608.50" y1="946.70" x2="608.50" y2="951.30" stroke="#3a3a3a" stroke-width="1.5"/>
<text x="608.50" y="962.90" font-size="9.9" text-anchor="middle" fill="#262626" stroke="#262626" stroke-width="0.3">0.6</text>
<line x1="642.90" y1="946.70" x2="642.90" y2="951.30" stroke="#3a3a3a" stroke-width="1.5"/>
<text x="642.90" y="962.90" font-size="9.9" text-anchor="middle" fill="#262626" stroke="#262626" stroke-width="0.3">0.8</text>
<line x1="677.30" y1="946.70" x2="677.30" y2="951.30" stroke="#3a3a3a" stroke-width="1.5"/>
<text x="677.30" y="962.90" font-size="9.9" text-anchor="middle" fill="#262626" stroke="#262626" stroke-width="0.3">1.0</text>
<line x1="497.70" y1="789.50" x2="501.90" y2="789.50" stroke="#3a3a3a" stroke-width="1.5"/>
<text x="493.60" y="793.00" font-size="9.9" text-anchor="end" fill="#262626" stroke="#262626" stroke-width="0.3">0.3</text>
<line x1="497.70" y1="833.50" x2="501.90" y2="833.50" stroke="#3a3a3a" stroke-width="1.5"/>
<text x="493.60" y="837.00" font-size="9.9" text-anchor="end" fill="#262626" stroke="#262626" stroke-width="0.3">0.2</text>
<line x1="497.70" y1="877.50" x2="501.90" y2="877.50" stroke="#3a3a3a" stroke-width="1.5"/>
<text x="493.60" y="881.00" font-size="9.9" text-anchor="end" fill="#262626" stroke="#262626" stroke-width="0.3">0.1</text>
<line x1="497.70" y1="921.50" x2="501.90" y2="921.50" stroke="#3a3a3a" stroke-width="1.5"/>
<text x="493.60" y="925.00" font-size="9.9" text-anchor="end" fill="#262626" stroke="#262626" stroke-width="0.3">0.0</text>
<text x="591.20" y="976.40" font-size="11.25" text-anchor="middle" fill="#1a1a1a" stroke="#1a1a1a" stroke-width="0.3">Threshold Probability</text>
<text x="590.90" y="765.80" font-size="9.7" text-anchor="start" fill="#1a1a1a" stroke="#1a1a1a" stroke-width="0.3">3-year</text>
<line x1="590.90" y1="774.80" x2="600.70" y2="774.80" stroke="#2b3a8c" stroke-width="1.9"/>
<text x="606.50" y="778.20" font-size="9.8" text-anchor="start" fill="#1a1a1a" stroke="#1a1a1a" stroke-width="0.3">m6A-RPS score</text>
<line x1="590.90" y1="786.10" x2="600.70" y2="786.10" stroke="#ee3a3a" stroke-width="1.9"/>
<text x="606.50" y="789.50" font-size="9.8" text-anchor="start" fill="#1a1a1a" stroke="#1a1a1a" stroke-width="0.3">All positive</text>
<line x1="590.90" y1="797.40" x2="600.70" y2="797.40" stroke="#5bbb55" stroke-width="1.9"/>
<text x="606.50" y="800.80" font-size="9.8" text-anchor="start" fill="#1a1a1a" stroke="#1a1a1a" stroke-width="0.3">All negative</text>
<text transform="translate(9.60 851.40) rotate(-90)" font-size="11.3" text-anchor="middle" fill="#1a1a1a" stroke="#1a1a1a" stroke-width="0.3">Net Benefit</text>
<text transform="translate(242.00 851.40) rotate(-90)" font-size="11.3" text-anchor="middle" fill="#1a1a1a" stroke="#1a1a1a" stroke-width="0.3">Net Benefit</text>
<text transform="translate(473.30 851.40) rotate(-90)" font-size="11.3" text-anchor="middle" fill="#1a1a1a" stroke="#1a1a1a" stroke-width="0.3">Net Benefit</text>
</svg></body></html>
